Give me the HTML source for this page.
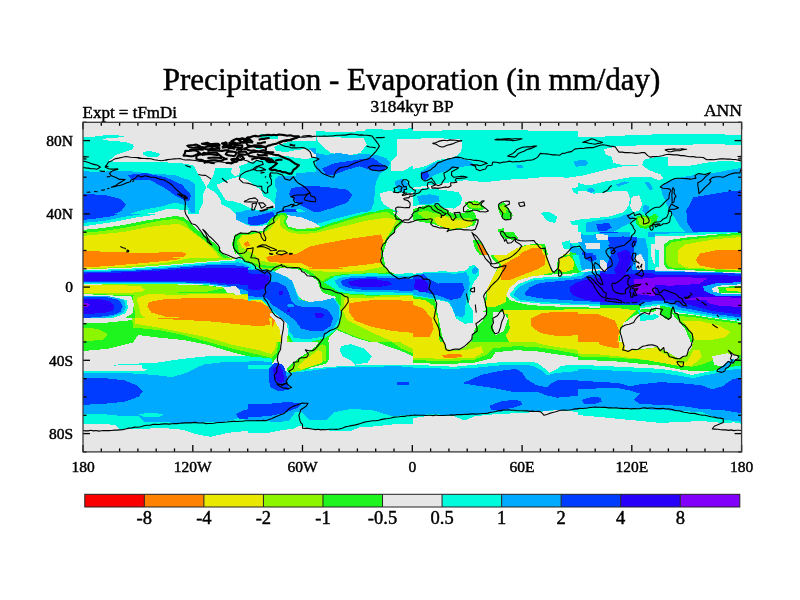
<!DOCTYPE html>
<html><head><meta charset="utf-8"><style>
html,body{margin:0;padding:0;background:#fff;}
svg{display:block;will-change:transform;}
text{font-family:"Liberation Serif",serif;fill:#000;stroke:#000;stroke-width:0.45px;}
</style></head><body>
<svg width="800" height="600" viewBox="0 0 800 600">
<rect x="0" y="0" width="800" height="600" fill="#fff"/>
<text x="411.6" y="90" font-size="31" text-anchor="middle" style="stroke-width:0.5px">Precipitation - Evaporation (in mm/day)</text>
<text x="82.5" y="118" font-size="17">Expt = tFmDi</text>
<text x="412.1" y="112" font-size="17.3" text-anchor="middle">3184kyr BP</text>
<text x="742" y="115.5" font-size="17.6" text-anchor="end">ANN</text>
<defs><clipPath id="mc"><rect x="83.0" y="122.3" width="658.6" height="329.59999999999997"/></clipPath></defs>
<rect x="83.0" y="122.3" width="658.6" height="329.59999999999997" fill="#e6e6e6"/>
<g clip-path="url(#mc)" shape-rendering="crispEdges">
<defs><clipPath id="c0"><rect x="83" y="122" width="165" height="110"/></clipPath><clipPath id="c1"><rect x="248" y="122" width="165" height="110"/></clipPath><clipPath id="c2"><rect x="195" y="155" width="80" height="77"/></clipPath><clipPath id="c3"><rect x="248" y="130" width="68" height="46"/></clipPath><clipPath id="c4"><rect x="413" y="122" width="165" height="110"/></clipPath><clipPath id="c5"><rect x="578" y="122" width="165" height="110"/></clipPath><clipPath id="c6"><rect x="578" y="140" width="90" height="92"/></clipPath><clipPath id="c7"><rect x="83" y="232" width="165" height="110"/></clipPath><clipPath id="c8"><rect x="248" y="232" width="165" height="110"/></clipPath><clipPath id="c9"><rect x="248" y="262" width="100" height="80"/></clipPath><clipPath id="c10"><rect x="413" y="232" width="165" height="110"/></clipPath><clipPath id="c11"><rect x="578" y="232" width="165" height="110"/></clipPath><clipPath id="c12"><rect x="570" y="232" width="120" height="73"/></clipPath><clipPath id="c13"><rect x="655" y="232" width="87" height="68"/></clipPath><clipPath id="c14"><rect x="640" y="300" width="102" height="50"/></clipPath><clipPath id="c15"><rect x="480" y="255" width="120" height="57"/></clipPath><clipPath id="c16"><rect x="83" y="214" width="160" height="44"/></clipPath><clipPath id="c17"><rect x="236" y="212" width="174" height="56"/></clipPath><clipPath id="c18"><rect x="83" y="342" width="165" height="110"/></clipPath><clipPath id="c19"><rect x="248" y="342" width="165" height="110"/></clipPath><clipPath id="c20"><rect x="413" y="342" width="165" height="110"/></clipPath><clipPath id="c21"><rect x="578" y="342" width="165" height="110"/></clipPath><clipPath id="c22"><rect x="83" y="318" width="189" height="47"/></clipPath></defs>
<polygon points="82.0,137.5 98.8,136.2 105.0,135.2 123.8,135.6 124.4,136.9 117.5,137.5 102.5,138.8 103.8,140.2 117.5,141.2 127.5,142.5 132.5,144.4 133.8,146.9 131.9,149.4 127.5,151.2 118.8,153.8 115.0,155.6 111.2,158.8 108.8,161.2 117.5,161.9 130.0,161.9 142.5,162.2 155.0,162.0 167.5,162.5 180.0,163.1 192.0,165.0 195.0,168.0 199.0,175.0 206.3,187.0 203.0,193.7 203.0,203.0 199.0,211.0 197.7,224.3 195.0,229.7 192.0,228.0 189.0,222.0 188.0,214.0 187.5,210.0 167.5,208.8 155.0,212.5 130.0,216.2 105.0,223.8 82.0,228.0" fill="#00fadc" clip-path="url(#c0)"/>
<polygon points="142.5,151.9 150.0,151.0 158.8,153.1 160.0,155.0 156.2,157.5 147.5,156.9 142.5,154.4" fill="#00fadc" clip-path="url(#c0)"/>
<polygon points="80.0,170.0 95.0,172.5 110.0,171.2 130.0,171.2 152.5,173.8 175.0,175.0 187.5,180.0 195.0,187.5 197.5,197.5 195.0,205.0 185.0,205.0 175.0,202.5 162.5,206.2 142.5,210.0 117.5,217.5 102.5,222.5 80.0,226.2" fill="#00aaff" clip-path="url(#c0)"/>
<polygon points="80.0,193.8 105.0,195.0 120.0,198.8 126.2,204.5 121.2,211.2 107.5,216.2 90.0,220.0 80.0,221.2" fill="#003cff" clip-path="url(#c0)"/>
<polygon points="173.0,178.0 188.0,179.5 197.0,185.5 198.5,197.5 197.0,212.5 191.0,212.5 186.5,205.0 180.5,194.5" fill="#00aaff" clip-path="url(#c0)"/>
<polygon points="128.0,175.0 137.0,173.8 146.0,173.2 165.5,177.2 182.0,184.7 191.0,195.2 189.5,200.5 185.0,200.5 176.0,196.0 164.0,187.7 150.5,180.2 132.5,179.8" fill="#003cff" clip-path="url(#c0)"/>
<polygon points="82.0,230.5 105.0,230.0 130.0,227.5 155.0,220.0 175.0,216.2 185.0,213.5 188.0,218.0 190.0,226.0 195.0,232.0 82.0,232.0" fill="#1ef51e" clip-path="url(#c0)"/>
<polygon points="82.0,233.0 130.0,230.0 155.0,225.0 180.0,219.0 186.0,218.0 189.0,226.0 193.0,232.0" fill="#8cf500" clip-path="url(#c0)"/>
<polygon points="82.0,235.0 130.0,233.0 160.0,229.0 185.0,224.0 190.0,228.0 192.0,232.0" fill="#e8e800" clip-path="url(#c0)"/>
<polygon points="237.7,111.7 423.3,111.7 423.3,245.8 237.7,245.8" fill="#00fadc" clip-path="url(#c1)"/>
<polygon points="245.9,119.9 415.1,119.9 413.0,128.2 388.2,129.8 367.6,128.6 363.5,131.3 340.8,131.9 316.1,131.3 309.9,134.4 299.6,134.8 289.2,136.4 285.1,144.7 278.9,150.9 272.8,155.0 264.5,157.1 256.2,158.1 245.9,158.1" fill="#e6e6e6" clip-path="url(#c1)"/>
<polygon points="316.1,136.4 340.8,137.5 363.5,138.5 366.6,144.7 360.4,152.9 347.0,156.0 330.5,152.9 323.3,146.8 318.1,141.6" fill="#e6e6e6" clip-path="url(#c1)"/>
<polygon points="276.3,151.9 289.2,149.8 299.6,150.9 309.9,152.9 318.1,157.1 320.2,162.2 311.9,164.3 302.7,159.1 291.3,157.5 283.1,155.0" fill="#e6e6e6" clip-path="url(#c1)"/>
<polygon points="245.9,180.4 258.3,181.8 262.4,188.0 264.5,196.2 260.4,201.4 245.9,202.4" fill="#e6e6e6" clip-path="url(#c1)"/>
<polygon points="397.0,139.0 414.0,139.0 414.0,165.0 403.0,171.0 391.0,171.0 391.0,162.0 397.0,155.0" fill="#e6e6e6" clip-path="url(#c1)"/>
<polygon points="380.0,193.2 388.2,191.1 396.5,192.1 404.8,193.2 415.1,192.1 415.1,233.4 401.7,233.4 404.8,214.8 396.5,210.7 390.3,208.6 384.1,204.5 381.0,200.4" fill="#e6e6e6" clip-path="url(#c1)"/>
<polygon points="309.9,146.8 316.1,152.9 326.4,155.0 338.8,152.9 351.1,155.0 363.5,154.0 375.9,155.0 386.2,158.1 390.3,163.2 386.2,169.4 380.0,173.6 375.9,181.8 374.8,190.1 374.2,202.4 370.9,210.1 360.0,216.1 344.9,220.6 338.8,218.9 326.4,214.8 309.9,213.8 299.6,208.6 289.2,212.8 278.9,215.8 268.6,218.9 256.2,218.9 245.9,216.9 245.9,208.6 260.4,206.6 274.8,201.4 276.9,190.1 272.8,181.8 278.9,175.6 291.3,173.6 299.6,167.4 309.9,163.2 316.1,159.1" fill="#00aaff" clip-path="url(#c1)"/>
<polygon points="395.0,181.0 402.0,179.0 408.0,183.0 407.0,190.0 400.0,192.0 396.0,188.0" fill="#00aaff" clip-path="url(#c1)"/>
<polygon points="322.2,168.4 334.6,163.2 351.1,160.8 363.5,158.7 373.8,158.1 380.0,163.2 386.2,166.3 384.1,170.5 371.8,170.5 359.4,166.3 347.0,169.8 334.6,174.6 326.4,175.2" fill="#003cff" clip-path="url(#c1)"/>
<polygon points="291.3,188.0 309.9,185.5 330.5,187.6 347.0,189.6 352.2,195.2 347.0,202.8 330.5,208.6 316.1,212.8 302.7,206.6 294.4,200.4 289.2,194.2" fill="#003cff" clip-path="url(#c1)"/>
<polygon points="245.9,217.9 260.4,215.8 274.8,212.8 287.2,208.6 295.4,208.6 297.5,212.8 289.2,216.9 274.8,223.1 260.4,227.2 245.9,228.2" fill="#003cff" clip-path="url(#c1)"/>
<polygon points="264.5,233.4 270.7,218.9 278.9,213.8 286.2,212.8 288.2,218.9 295.4,223.1 309.9,223.1 330.5,220.6 351.1,217.3 371.8,212.8 382.1,209.7 390.3,208.6 396.5,212.8 400.6,221.0 400.6,233.4" fill="#1ef51e" clip-path="url(#c1)"/>
<polygon points="267.6,233.4 272.8,222.0 281.0,216.5 284.7,218.9 286.8,225.1 299.6,226.8 330.5,225.1 361.4,221.0 380.0,215.2 392.4,213.2 397.5,218.9 399.6,225.1 396.5,233.4" fill="#8cf500" clip-path="url(#c1)"/>
<polygon points="269.7,233.4 274.8,224.1 282.0,219.3 284.7,225.1 286.2,233.4" fill="#e8e800" clip-path="url(#c1)"/>
<polygon points="334.6,233.4 361.4,226.2 382.1,220.0 392.4,218.5 395.5,225.1 392.4,233.4" fill="#e8e800" clip-path="url(#c1)"/>
<polygon points="195.0,155.0 275.0,155.0 275.0,235.0 195.0,235.0" fill="#00fadc" clip-path="url(#c2)"/>
<polygon points="216.3,185.0 224.3,181.7 232.3,178.3 237.7,177.0 245.7,179.0 255.0,185.7 261.7,191.0 263.0,196.3 269.7,199.0 275.0,204.3 275.0,207.7 261.7,211.0 251.0,208.3 243.0,204.3 235.0,201.7 225.7,200.3 221.7,193.7" fill="#e6e6e6" clip-path="url(#c2)"/>
<polygon points="195.0,155.0 275.0,155.0 275.0,157.7 256.3,160.3 248.3,163.0 239.0,166.3 240.3,171.0 239.0,175.0 235.0,176.3 231.0,172.3 232.3,167.7 215.0,168.3 213.7,175.0 209.7,181.7 206.3,187.0 199.0,175.0 195.0,168.3" fill="#e6e6e6" clip-path="url(#c2)"/>
<polygon points="206.3,187.0 215.0,192.3 220.3,199.0 221.7,204.3 229.7,208.3 235.0,213.7 235.0,224.3 237.7,232.3 239.0,235.0 195.0,235.0 195.0,229.7 197.7,224.3 199.0,211.0 203.0,203.0 203.0,193.7" fill="#e6e6e6" clip-path="url(#c2)"/>
<polygon points="239.0,212.3 248.3,209.7 259.0,211.0 269.7,211.0 275.0,209.7 275.0,229.7 259.0,231.0 243.0,224.3 239.0,219.0" fill="#00aaff" clip-path="url(#c2)"/>
<polygon points="248.3,220.3 259.0,217.7 269.7,217.7 275.0,216.3 275.0,224.3 264.3,225.7 251.0,225.0" fill="#003cff" clip-path="url(#c2)"/>
<polygon points="182.0,232.0 185.0,213.5 188.0,218.0 190.0,226.0 195.0,232.0" fill="#1ef51e" clip-path="url(#c2)"/>
<polygon points="235.5,125.5 316.5,125.5 316.5,176.5 235.5,176.5" fill="#e6e6e6" clip-path="url(#c3)"/>
<polygon points="260.0,134.0 269.0,133.5 278.0,134.5 278.0,139.0 269.0,138.5 260.0,138.0" fill="#00fadc" clip-path="url(#c3)"/>
<polygon points="274.0,147.0 281.0,144.0 291.0,141.5 306.0,140.5 316.5,141.0 316.5,152.0 306.0,149.0 296.0,150.0 286.0,152.0 276.0,151.0" fill="#00fadc" clip-path="url(#c3)"/>
<polygon points="235.5,164.0 246.0,163.0 261.0,160.0 271.0,157.0 286.0,156.0 296.0,158.0 306.0,159.0 316.5,157.0 316.5,176.5 235.5,176.5" fill="#00fadc" clip-path="url(#c3)"/>
<polygon points="244.0,139.0 251.0,140.0 252.0,143.0 246.0,143.0" fill="#00fadc" clip-path="url(#c3)"/>
<polygon points="254.0,146.0 261.0,145.0 262.0,149.0 256.0,149.0" fill="#00fadc" clip-path="url(#c3)"/>
<polygon points="308.0,148.0 316.5,147.5 316.5,155.0 312.0,152.0" fill="#00aaff" clip-path="url(#c3)"/>
<polygon points="296.0,173.0 316.5,172.0 316.5,176.5 296.0,176.5" fill="#00aaff" clip-path="url(#c3)"/>
<polygon points="410.9,131.3 454.2,130.2 495.5,129.8 536.8,130.7 580.1,131.3 580.1,176.0 567.7,177.7 547.1,176.7 526.4,178.7 505.8,179.8 485.2,182.2 464.6,180.2 454.2,181.8 437.8,183.9 425.4,185.9 410.9,188.0" fill="#00fadc" clip-path="url(#c4)"/>
<polygon points="410.9,139.5 425.4,138.1 443.9,138.5 460.4,139.5 462.5,144.7 460.4,152.9 454.2,157.1 437.8,160.2 425.4,166.3 410.9,169.4" fill="#e6e6e6" clip-path="url(#c4)"/>
<polygon points="410.9,190.1 425.4,188.0 443.9,190.1 458.4,192.1 462.5,198.3 460.4,204.5 454.2,208.6 443.9,207.6 433.6,206.6 423.3,204.5 410.9,206.6" fill="#00fadc" clip-path="url(#c4)"/>
<polygon points="540.9,212.8 549.1,211.7 557.4,216.9 555.3,223.1 547.1,221.0" fill="#00fadc" clip-path="url(#c4)"/>
<polygon points="571.8,188.0 580.1,187.0 580.1,194.2 573.9,193.2" fill="#00fadc" clip-path="url(#c4)"/>
<polygon points="569.8,221.0 580.1,220.0 580.1,225.1 571.8,224.7" fill="#00fadc" clip-path="url(#c4)"/>
<polygon points="417.1,196.2 429.5,194.2 438.8,196.2 439.8,201.4 431.6,203.5 419.2,203.5" fill="#00aaff" clip-path="url(#c4)"/>
<polygon points="421.2,171.5 433.6,163.2 446.0,159.1 458.4,158.1 470.8,161.2 474.9,165.3 464.6,166.3 454.2,168.4 443.9,171.5 433.6,175.6 427.4,179.8 421.2,178.7" fill="#00aaff" clip-path="url(#c4)"/>
<polygon points="421.2,172.5 427.4,171.5 429.5,176.7 425.4,179.8 421.7,178.7" fill="#003cff" clip-path="url(#c4)"/>
<polygon points="516.1,165.3 522.3,164.9 523.3,168.4 517.2,168.4" fill="#00aaff" clip-path="url(#c4)"/>
<polygon points="573.9,161.2 580.1,160.2 580.1,167.4 574.9,166.3" fill="#00aaff" clip-path="url(#c4)"/>
<polygon points="410.9,209.7 425.4,205.5 435.7,204.5 443.9,208.6 454.2,214.4 464.6,212.8 467.7,208.6 474.9,212.8 476.9,218.9 474.9,225.1 464.6,228.2 450.1,230.3 433.6,224.1 410.9,220.0" fill="#1ef51e" clip-path="url(#c4)"/>
<polygon points="417.1,212.8 425.4,210.7 433.6,212.8 443.9,214.8 454.2,217.9 470.8,217.9 473.8,223.1 464.6,227.2 450.1,228.2 437.8,224.1 425.4,218.9" fill="#8cf500" clip-path="url(#c4)"/>
<polygon points="433.6,217.9 443.9,215.8 454.2,220.0 468.7,220.0 472.8,224.1 464.6,228.2 448.1,228.8 437.8,225.1" fill="#e8e800" clip-path="url(#c4)"/>
<polygon points="464.6,202.4 474.9,200.4 481.1,202.4 485.2,208.6 479.0,211.1 468.7,208.6" fill="#1ef51e" clip-path="url(#c4)"/>
<polygon points="467.7,203.5 474.9,202.0 479.0,203.5 481.1,207.6 474.9,208.6 469.7,207.0" fill="#8cf500" clip-path="url(#c4)"/>
<polygon points="497.6,204.5 503.8,202.4 508.9,208.6 513.0,215.8 507.9,220.0 501.7,217.3 498.6,210.7" fill="#1ef51e" clip-path="url(#c4)"/>
<polygon points="499.6,206.6 503.8,204.5 506.8,208.6 505.8,212.8 501.7,212.8" fill="#8cf500" clip-path="url(#c4)"/>
<polygon points="497.6,229.2 503.8,228.2 504.8,233.4 497.6,233.4" fill="#1ef51e" clip-path="url(#c4)"/>
<polygon points="567.7,111.7 753.3,111.7 753.3,245.8 567.7,245.8" fill="#00fadc" clip-path="url(#c5)"/>
<polygon points="575.9,119.9 745.1,119.9 745.1,135.4 722.4,134.4 681.1,133.8 639.9,134.8 598.6,136.8 575.9,137.5" fill="#e6e6e6" clip-path="url(#c5)"/>
<polygon points="667.9,145.1 701.8,144.3 745.1,144.7 745.1,162.2 722.4,160.8 705.9,162.8 693.5,165.3 681.1,166.3 667.9,165.7" fill="#e6e6e6" clip-path="url(#c5)"/>
<polygon points="664.6,183.9 670.8,179.8 685.2,176.7 697.6,174.6 710.0,173.6 722.4,171.5 734.8,169.0 745.1,167.4 745.1,233.4 687.3,233.4 679.1,225.1 672.9,214.8 666.7,204.5 663.6,192.1" fill="#00aaff" clip-path="url(#c5)"/>
<polygon points="693.5,197.3 705.9,195.2 718.2,193.2 730.6,191.1 745.1,190.1 745.1,233.4 694.5,233.4 687.3,223.1 686.3,210.7" fill="#003cff" clip-path="url(#c5)"/>
<polygon points="604.1,149.2 617.9,146.1 639.3,145.4 670.0,144.6 670.0,156.9 651.6,157.6 644.0,159.9 642.4,164.5 624.0,165.3 613.3,163.0 611.7,156.9 605.6,154.6" fill="#e6e6e6" clip-path="url(#c6)"/>
<polygon points="596.4,172.2 608.7,169.1 624.0,166.1 642.4,165.3 648.6,169.9 660.8,174.5 663.9,179.1 657.8,179.9 650.1,176.8 639.3,176.8 627.1,177.6 616.3,179.9 605.6,181.4 593.3,184.5 584.1,184.5 577.2,182.9 577.2,176.8 587.2,174.5" fill="#e6e6e6" clip-path="url(#c6)"/>
<polygon points="577.2,190.6 584.1,190.6 593.3,193.7 608.7,192.1 616.3,190.6 627.1,190.6 630.1,198.3 628.6,206.0 624.0,212.1 608.7,216.7 593.3,218.2 577.2,219.8" fill="#e6e6e6" clip-path="url(#c6)"/>
<polygon points="631.7,196.7 639.3,195.2 642.4,204.4 639.3,210.6 633.2,212.1 630.1,206.0" fill="#e6e6e6" clip-path="url(#c6)"/>
<polygon points="577.2,159.9 585.7,159.9 588.7,163.0 585.7,166.1 577.2,166.1" fill="#00aaff" clip-path="url(#c6)"/>
<polygon points="587.2,189.1 591.8,187.5 594.9,190.6 591.8,192.9 588.0,192.1" fill="#00aaff" clip-path="url(#c6)"/>
<polygon points="616.3,184.5 624.0,181.4 630.1,182.2 624.0,184.5 617.9,186.8" fill="#00aaff" clip-path="url(#c6)"/>
<polygon points="644.0,181.4 650.1,182.9 653.2,189.1 650.1,190.6 647.0,186.0" fill="#00aaff" clip-path="url(#c6)"/>
<polygon points="644.0,204.4 648.6,206.0 649.3,212.1 645.5,213.6 642.4,210.6" fill="#00aaff" clip-path="url(#c6)"/>
<polygon points="660.8,186.0 670.0,181.4 670.0,201.3 663.9,198.3 661.6,192.1" fill="#00aaff" clip-path="url(#c6)"/>
<polygon points="585.7,222.8 601.0,219.8 616.3,218.2 628.6,213.6 633.2,216.7 630.1,222.8 624.0,225.9 616.3,230.5 608.7,233.6 585.7,233.6" fill="#00aaff" clip-path="url(#c6)"/>
<polygon points="596.4,224.4 608.7,222.8 611.7,227.4 605.6,231.3 597.9,230.5" fill="#003cff" clip-path="url(#c6)"/>
<polygon points="636.3,216.7 642.4,215.2 650.1,216.7 654.7,213.6 657.8,216.7 656.2,222.8 651.6,227.4 645.5,229.0 639.3,227.4 635.5,222.8" fill="#1ef51e" clip-path="url(#c6)"/>
<polygon points="637.8,218.2 642.4,216.7 648.6,218.2 651.6,219.8 650.1,224.4 644.0,226.7 639.3,224.4" fill="#8cf500" clip-path="url(#c6)"/>
<polygon points="72.7,221.7 258.3,221.7 258.3,355.8 72.7,355.8" fill="#1ef51e" clip-path="url(#c7)"/>
<polygon points="80.9,229.9 204.7,229.9 215.0,240.2 225.3,250.6 237.7,256.8 250.1,258.8 250.1,260.9 206.8,262.9 165.5,266.0 124.2,268.7 80.9,271.2" fill="#8cf500" clip-path="url(#c7)"/>
<polygon points="80.9,229.9 200.6,229.9 208.8,240.2 217.1,248.5 206.8,254.7 186.1,258.8 165.5,262.9 124.2,266.6 80.9,269.1" fill="#e8e800" clip-path="url(#c7)"/>
<polygon points="80.9,250.6 124.2,251.6 165.5,251.0 186.1,252.6 186.1,256.8 175.8,259.8 144.9,262.9 113.9,265.6 80.9,267.7" fill="#ff8200" clip-path="url(#c7)"/>
<polygon points="208.8,229.9 234.6,229.9 235.6,244.4 239.8,252.6 250.1,255.7 250.1,257.8 239.8,255.1 227.4,249.5 217.1,240.2" fill="#e6e6e6" clip-path="url(#c7)"/>
<polygon points="80.9,283.6 144.9,283.6 186.1,284.6 206.8,286.0 227.4,287.7 206.8,291.8 165.5,292.8 144.9,294.9 124.2,294.9 80.9,293.9" fill="#8cf500" clip-path="url(#c7)"/>
<polygon points="80.9,285.0 113.9,285.0 140.8,286.0 144.9,289.8 140.8,292.4 113.9,292.8 80.9,292.8" fill="#e8e800" clip-path="url(#c7)"/>
<polygon points="132.5,295.9 144.9,292.8 186.1,292.8 250.1,292.8 250.1,333.1 206.8,331.0 165.5,328.9 144.9,326.9 134.6,320.7 134.6,310.4" fill="#8cf500" clip-path="url(#c7)"/>
<polygon points="136.6,298.0 149.0,293.9 175.8,294.9 206.8,293.9 250.1,294.9 250.1,328.9 227.4,327.9 196.4,324.8 165.5,322.8 149.0,320.7 140.8,314.5 138.7,306.2" fill="#e8e800" clip-path="url(#c7)"/>
<polygon points="149.0,302.1 165.5,299.0 196.4,298.0 227.4,298.0 250.1,300.1 250.1,322.8 227.4,322.8 196.4,318.6 165.5,316.6 151.1,312.4 147.3,306.2" fill="#ff8200" clip-path="url(#c7)"/>
<polygon points="136.6,343.4 140.8,334.1 155.2,332.6 175.8,333.1 182.0,337.2 184.1,343.4" fill="#e6e6e6" clip-path="url(#c7)"/>
<polygon points="80.9,328.9 103.6,331.0 105.7,337.2 95.4,343.4 80.9,343.4" fill="#8cf500" clip-path="url(#c7)"/>
<polygon points="80.9,269.1 124.2,268.1 165.5,265.0 206.8,261.5 227.4,259.8 250.1,258.4 250.1,293.9 235.6,294.9 227.4,288.1 206.8,285.2 165.5,284.2 124.2,284.2 80.9,284.8" fill="#e6e6e6" clip-path="url(#c7)"/>
<polygon points="80.9,270.2 124.2,269.1 165.5,266.0 206.8,262.5 227.4,260.9 250.1,259.8 250.1,293.9 239.8,293.9 231.5,287.7 206.8,284.6 165.5,283.6 124.2,283.6 80.9,284.0" fill="#00fadc" clip-path="url(#c7)"/>
<polygon points="80.9,271.2 124.2,270.2 165.5,267.5 206.8,264.0 250.1,262.5 250.1,293.9 241.8,293.9 235.6,288.1 206.8,284.0 165.5,282.5 124.2,282.5 80.9,282.9" fill="#00aaff" clip-path="url(#c7)"/>
<polygon points="80.9,272.2 124.2,271.2 165.5,268.7 206.8,265.4 250.1,264.6 250.1,291.8 243.9,289.8 227.4,285.6 206.8,283.1 165.5,281.9 124.2,281.5 80.9,281.9" fill="#003cff" clip-path="url(#c7)"/>
<polygon points="80.9,273.7 124.2,272.4 165.5,270.2 206.8,267.5 250.1,268.1 250.1,285.2 227.4,283.6 206.8,281.5 165.5,280.7 124.2,280.7 80.9,280.5" fill="#2800fa" clip-path="url(#c7)"/>
<polygon points="223.2,287.3 235.6,286.0 239.8,289.8 239.8,293.9 227.4,293.1" fill="#e6e6e6" clip-path="url(#c7)"/>
<polygon points="80.9,294.0 98.0,294.7 112.9,295.5 131.1,296.2 133.9,304.5 132.5,313.5 125.0,318.0 112.9,321.0 98.0,323.2 80.9,324.0" fill="#e6e6e6" clip-path="url(#c7)"/>
<polygon points="80.9,295.5 112.9,297.0 126.5,300.0 128.0,307.5 125.0,313.5 112.9,318.0 98.0,320.3 80.9,321.0" fill="#00fadc" clip-path="url(#c7)"/>
<polygon points="80.9,295.9 109.8,296.4 124.2,300.1 125.9,307.5 123.2,312.9 111.9,316.6 97.4,319.0 80.9,319.7" fill="#00aaff" clip-path="url(#c7)"/>
<polygon points="80.9,297.0 105.5,297.0 119.0,300.0 122.7,306.0 120.5,312.0 112.9,314.9 98.0,317.2 80.9,318.0" fill="#003cff" clip-path="url(#c7)"/>
<polygon points="80.9,298.5 98.0,298.5 110.0,301.5 114.5,306.0 112.9,310.5 105.5,312.7 95.0,313.5 80.9,314.3" fill="#2800fa" clip-path="url(#c7)"/>
<polygon points="80.9,302.2 87.5,302.9 90.5,304.8 87.5,306.7 80.9,306.7" fill="#8200fa" clip-path="url(#c7)"/>
<polygon points="237.7,221.7 423.3,221.7 423.3,355.8 237.7,355.8" fill="#1ef51e" clip-path="url(#c8)"/>
<polygon points="245.9,229.9 388.2,229.9 382.1,252.6 384.1,267.1 392.4,272.2 371.8,273.2 340.8,274.3 330.5,276.3 322.2,281.5 309.9,271.2 299.6,267.1 278.9,269.1 245.9,271.2" fill="#8cf500" clip-path="url(#c8)"/>
<polygon points="245.9,238.2 268.6,240.2 289.2,241.3 330.5,240.2 361.4,236.1 384.1,229.9 380.0,244.4 380.0,260.9 375.9,268.1 361.4,271.2 330.5,272.2 309.9,270.2 299.6,267.1 278.9,268.1 264.5,265.0 245.9,267.1" fill="#e8e800" clip-path="url(#c8)"/>
<polygon points="266.6,255.7 278.9,253.7 297.5,253.7 309.9,248.5 330.5,243.3 351.1,239.2 371.8,236.1 381.0,235.1 382.1,244.4 380.0,258.8 371.8,265.0 351.1,268.1 330.5,269.1 309.9,268.7 299.6,265.0 289.2,262.9 268.6,261.9" fill="#ff8200" clip-path="url(#c8)"/>
<polygon points="388.2,229.9 415.1,229.9 415.1,272.2 400.6,275.3 392.4,273.2 385.2,267.1 382.1,258.8 383.1,244.4" fill="#e6e6e6" clip-path="url(#c8)"/>
<polygon points="340.8,293.9 371.8,295.9 415.1,293.9 415.1,344.4 382.5,344.8 355.0,336.6 335.7,328.1 338.8,318.6 340.8,304.2" fill="#8cf500" clip-path="url(#c8)"/>
<polygon points="344.9,298.0 371.8,297.6 415.1,295.9 415.1,344.4 396.3,343.4 368.7,331.0 346.8,320.1 342.9,310.4" fill="#e8e800" clip-path="url(#c8)"/>
<polygon points="349.1,303.2 371.8,300.1 392.4,300.1 415.1,301.1 415.1,333.1 392.4,331.0 371.8,326.9 355.2,320.7 349.1,312.4" fill="#ff8200" clip-path="url(#c8)"/>
<polygon points="336.7,330.0 355.0,337.6 382.5,345.9 326.4,345.9 329.5,337.2" fill="#e6e6e6" clip-path="url(#c8)"/>
<polygon points="245.9,291.8 268.6,293.9 276.9,302.1 285.1,318.6 289.2,343.4 245.9,343.4" fill="#8cf500" clip-path="url(#c8)"/>
<polygon points="245.9,293.9 260.4,295.9 272.8,304.2 281.0,318.6 283.1,343.4 245.9,343.4" fill="#e8e800" clip-path="url(#c8)"/>
<polygon points="245.9,300.1 260.4,302.1 270.7,308.3 274.8,320.7 272.8,326.9 260.4,328.9 245.9,328.9" fill="#ff8200" clip-path="url(#c8)"/>
<polygon points="247.3,267.3 261.3,268.7 270.7,270.0 278.7,271.3 288.0,276.7 294.7,282.0 297.3,292.7 301.3,300.7 308.0,303.3 322.7,302.0 334.7,298.0 340.0,306.0 341.3,319.3 336.0,330.0 325.3,338.0 308.0,342.7 293.3,342.7 288.0,334.0 286.7,326.0 280.0,319.3 272.0,312.7 266.7,304.7 261.3,300.0 247.3,300.7" fill="#00fadc" clip-path="url(#c9)"/>
<polygon points="274.7,271.3 281.3,268.0 294.7,268.7 304.0,271.3 312.0,276.7 317.3,280.7 320.0,288.7 322.7,292.7 330.7,295.3 336.0,296.9 333.3,300.7 322.7,300.7 309.3,302.0 301.3,299.3 297.3,294.0 293.3,283.3 286.7,276.7 278.7,274.0" fill="#e6e6e6" clip-path="url(#c9)"/>
<polygon points="270.7,312.7 278.7,315.3 286.7,322.0 288.0,331.3 286.7,342.7 281.3,342.7 280.0,330.0 274.7,320.7 269.3,315.3" fill="#e6e6e6" clip-path="url(#c9)"/>
<polygon points="247.3,268.7 270.7,271.3 277.3,272.7 285.3,276.7 292.0,280.7 294.7,288.7 298.7,299.3 309.3,302.0 322.7,300.7 333.3,298.0 338.7,306.0 338.7,319.3 333.3,328.7 322.7,336.7 308.0,339.3 294.7,338.0 289.3,331.3 289.3,326.0 282.7,319.3 274.7,312.7 268.0,304.7 261.3,298.7 247.3,298.7" fill="#00aaff" clip-path="url(#c9)"/>
<polygon points="247.3,270.0 261.3,270.0 270.7,272.7 270.7,282.0 277.3,282.0 285.3,286.0 289.3,294.0 292.0,302.0 297.3,306.0 308.0,307.3 318.7,306.7 328.0,310.0 333.3,318.0 330.7,326.0 322.7,331.3 312.0,331.3 301.3,328.7 297.3,323.3 292.0,318.0 286.7,314.0 278.7,308.7 272.0,304.7 268.0,299.3 264.0,296.7 256.0,296.9 247.3,295.3" fill="#003cff" clip-path="url(#c9)"/>
<polygon points="247.3,273.3 256.0,274.0 268.0,274.7 269.3,279.3 265.3,288.7 258.7,290.0 247.3,289.3" fill="#2800fa" clip-path="url(#c9)"/>
<polygon points="278.7,291.3 282.7,291.3 283.3,294.0 280.7,295.3 278.7,294.0" fill="#2800fa" clip-path="url(#c9)"/>
<polygon points="314.7,313.3 320.0,312.7 324.0,314.7 322.0,318.0 316.0,318.0" fill="#2800fa" clip-path="url(#c9)"/>
<polygon points="286.7,310.0 289.3,308.7 290.7,311.3 288.0,312.7" fill="#2800fa" clip-path="url(#c9)"/>
<polygon points="286.7,304.7 293.3,304.0 294.0,306.7 288.0,307.3" fill="#00aaff" clip-path="url(#c9)"/>
<polygon points="324.3,282.5 334.6,276.3 351.1,274.3 371.8,273.2 392.4,274.3 415.1,272.8 415.1,294.9 392.4,295.5 371.8,294.9 351.1,293.9 338.8,291.8" fill="#00fadc" clip-path="url(#c8)"/>
<polygon points="334.6,280.5 342.9,277.0 361.4,275.7 382.1,275.7 402.7,276.3 415.1,276.3 415.1,292.8 371.8,292.2 347.0,291.2 338.8,287.7" fill="#00aaff" clip-path="url(#c8)"/>
<polygon points="340.8,280.9 351.1,277.8 371.8,277.4 392.4,277.8 415.1,279.0 415.1,290.8 382.1,290.2 355.2,289.3 342.9,286.0" fill="#003cff" clip-path="url(#c8)"/>
<polygon points="347.0,281.9 359.4,279.4 375.9,279.4 388.2,281.5 392.4,284.6 380.0,286.9 363.5,287.3 351.1,285.6" fill="#2800fa" clip-path="url(#c8)"/>
<polygon points="402.7,221.7 588.3,221.7 588.3,355.8 402.7,355.8" fill="#1ef51e" clip-path="url(#c10)"/>
<polygon points="410.9,229.9 545.0,229.9 545.0,244.4 536.8,243.3 524.4,245.4 516.1,248.5 505.8,256.8 499.6,262.9 493.4,266.0 495.5,273.2 489.3,285.6 485.2,295.9 483.1,306.2 487.2,314.5 481.1,322.8 474.9,328.9 470.8,343.4 443.9,343.4 439.8,324.8 435.7,304.2 431.6,283.6 425.4,275.3 410.9,274.3" fill="#e6e6e6" clip-path="url(#c10)"/>
<polygon points="540.9,229.9 580.1,229.9 580.1,249.5 578.0,250.6 565.6,254.7 561.5,260.9 559.4,273.2 555.3,271.2 549.1,258.8 545.0,244.4" fill="#e6e6e6" clip-path="url(#c10)"/>
<polygon points="472.8,240.2 479.0,240.2 485.2,248.5 493.4,262.9 489.3,265.0 481.1,256.8 474.9,248.5" fill="#1ef51e" clip-path="url(#c10)"/>
<polygon points="476.9,244.4 481.1,244.4 487.2,252.6 489.3,260.9 484.2,256.8 479.0,250.6" fill="#ff8200" clip-path="url(#c10)"/>
<polygon points="499.6,229.9 512.0,229.9 518.2,238.2 514.1,240.2 503.8,238.2" fill="#1ef51e" clip-path="url(#c10)"/>
<polygon points="491.4,266.0 501.7,257.8 516.1,248.5 526.4,245.4 540.9,244.8 546.0,256.8 551.2,269.1 557.4,273.2 580.1,271.2 580.1,343.4 509.9,343.4 505.8,335.1 509.9,328.9 507.9,314.5 495.5,313.5 487.2,310.4 485.2,300.1 489.3,287.7 494.5,273.2" fill="#e8e800" clip-path="url(#c10)"/>
<polygon points="557.4,256.8 565.6,253.7 573.9,254.7 578.0,260.9 575.9,271.2 561.5,273.2 559.4,265.0" fill="#e8e800" clip-path="url(#c10)"/>
<polygon points="501.7,267.1 509.9,260.9 522.3,252.6 532.6,247.5 540.9,248.5 545.0,258.8 542.9,269.1 532.6,272.2 516.1,277.4 503.8,281.5 499.6,275.3" fill="#ff8200" clip-path="url(#c10)"/>
<polygon points="530.6,318.6 540.9,313.5 557.4,311.4 580.1,311.4 580.1,335.1 557.4,336.2 540.9,333.1 531.6,326.9" fill="#ff8200" clip-path="url(#c10)"/>
<polygon points="410.9,298.0 425.4,300.1 433.6,306.2 437.8,318.6 439.8,343.4 410.9,343.4" fill="#e8e800" clip-path="url(#c10)"/>
<polygon points="410.9,304.2 423.3,308.3 431.6,318.6 433.6,328.9 429.5,337.2 410.9,337.2" fill="#ff8200" clip-path="url(#c10)"/>
<polygon points="503.8,293.9 509.9,284.6 520.2,278.4 536.8,274.3 557.4,272.8 580.1,271.2 580.1,312.4 557.4,309.3 536.8,307.3 520.2,305.2 507.9,302.1" fill="#e6e6e6" clip-path="url(#c10)"/>
<polygon points="506.8,293.9 512.0,286.7 521.3,281.1 536.8,277.0 557.4,275.3 580.1,273.9 580.1,309.3 557.4,306.7 536.8,304.6 520.2,302.5 509.9,300.1" fill="#00fadc" clip-path="url(#c10)"/>
<polygon points="514.1,293.9 520.2,286.0 536.8,280.5 557.4,278.4 580.1,277.0 580.1,306.7 557.4,303.6 536.8,301.5 520.2,299.0" fill="#00aaff" clip-path="url(#c10)"/>
<polygon points="522.3,292.2 530.6,286.0 545.0,282.9 561.5,281.5 580.1,280.5 580.1,302.5 557.4,300.1 536.8,298.0 524.4,295.9" fill="#003cff" clip-path="url(#c10)"/>
<polygon points="569.8,283.6 580.1,282.5 580.1,298.4 571.8,295.9 568.7,289.8" fill="#2800fa" clip-path="url(#c10)"/>
<polygon points="410.9,274.3 425.4,272.2 443.9,271.2 454.2,272.2 466.6,270.2 469.7,266.0 474.9,265.0 479.0,269.1 479.0,275.3 472.8,283.6 470.8,293.9 468.7,304.2 472.8,310.4 472.8,322.8 464.6,323.8 456.3,318.6 452.2,308.3 448.1,302.1 437.8,300.1 425.4,298.0 410.9,295.9" fill="#00fadc" clip-path="url(#c10)"/>
<polygon points="410.9,275.3 425.4,273.2 443.9,272.8 454.2,273.9 465.6,272.2 468.7,276.3 469.7,283.6 467.7,293.9 465.6,304.2 464.6,314.5 462.5,317.6 455.3,315.5 452.2,307.3 449.1,301.7 437.8,299.0 425.4,297.0 410.9,294.3" fill="#00aaff" clip-path="url(#c10)"/>
<polygon points="410.9,276.3 423.3,274.3 429.5,279.4 437.8,283.6 450.1,282.5 462.5,282.5 464.6,289.8 460.4,298.0 450.1,300.1 439.8,295.9 429.5,293.9 419.2,289.8 410.9,289.8" fill="#003cff" clip-path="url(#c10)"/>
<polygon points="415.1,279.0 423.3,278.4 428.5,283.6 427.4,291.8 419.2,291.8 414.0,287.7" fill="#2800fa" clip-path="url(#c10)"/>
<polygon points="561.5,242.3 569.8,240.2 580.1,239.2 580.1,250.6 571.8,249.5 563.6,248.5" fill="#00fadc" clip-path="url(#c10)"/>
<polygon points="471.8,269.1 474.9,266.6 478.0,268.7 477.4,273.2 473.8,274.3 471.8,272.2" fill="#00aaff" clip-path="url(#c10)"/>
<polygon points="493.4,312.4 501.7,310.4 507.9,318.6 503.8,331.0 495.5,335.1 492.4,324.8" fill="#e6e6e6" clip-path="url(#c10)"/>
<polygon points="664.6,238.2 701.8,236.1 745.1,234.1 745.1,273.2 701.8,272.2 670.8,271.2 664.6,262.9" fill="#1ef51e" clip-path="url(#c11)"/>
<polygon points="668.8,240.2 701.8,238.2 745.1,236.1 745.1,272.2 701.8,271.2 672.9,270.2 668.8,260.9" fill="#8cf500" clip-path="url(#c11)"/>
<polygon points="672.9,241.3 701.8,240.2 745.1,238.2 745.1,271.2 701.8,270.2 677.0,269.1 671.8,256.8" fill="#e8e800" clip-path="url(#c11)"/>
<polygon points="695.6,251.6 712.1,250.2 745.1,249.5 745.1,270.2 722.4,269.5 701.8,268.1 696.6,260.9" fill="#ff8200" clip-path="url(#c11)"/>
<polygon points="650.2,240.2 666.7,238.2 668.8,252.6 666.7,269.1 654.3,269.1 650.2,256.8" fill="#e6e6e6" clip-path="url(#c11)"/>
<polygon points="666.7,229.9 745.1,229.9 745.1,235.1 701.8,237.2 666.7,238.2" fill="#00aaff" clip-path="url(#c11)"/>
<polygon points="666.7,269.1 745.1,272.2 745.1,318.6 722.4,316.6 701.8,314.5 681.1,310.4 666.7,308.3" fill="#00fadc" clip-path="url(#c11)"/>
<polygon points="666.7,270.2 745.1,273.2 745.1,316.6 701.8,313.5 666.7,307.3" fill="#00aaff" clip-path="url(#c11)"/>
<polygon points="666.7,271.2 701.8,272.2 745.1,274.3 745.1,314.5 701.8,311.4 666.7,306.2" fill="#003cff" clip-path="url(#c11)"/>
<polygon points="666.7,273.2 701.8,274.3 745.1,276.3 745.1,312.4 722.4,310.4 701.8,308.3 666.7,305.2" fill="#2800fa" clip-path="url(#c11)"/>
<polygon points="666.7,278.4 681.1,279.4 701.8,281.5 705.9,285.6 693.5,288.7 677.0,289.8 666.7,289.8" fill="#8200fa" clip-path="url(#c11)"/>
<polygon points="701.8,293.9 722.4,295.9 745.1,293.9 745.1,304.2 722.4,303.2 705.9,300.1" fill="#8200fa" clip-path="url(#c11)"/>
<polygon points="710.0,285.6 722.4,283.6 745.1,282.5 745.1,293.9 722.4,293.9 712.1,291.8" fill="#e6e6e6" clip-path="url(#c11)"/>
<polygon points="714.1,286.0 745.1,284.6 745.1,292.8 716.2,291.8" fill="#1ef51e" clip-path="url(#c11)"/>
<polygon points="722.4,286.7 745.1,286.0 745.1,291.8 722.4,290.8" fill="#e8e800" clip-path="url(#c11)"/>
<polygon points="575.9,304.2 639.9,305.2 644.0,310.4 629.6,318.6 621.3,328.9 619.2,343.4 575.9,343.4" fill="#1ef51e" clip-path="url(#c11)"/>
<polygon points="575.9,307.3 619.2,308.3 635.8,310.4 627.5,318.6 621.3,326.9 618.2,343.4 575.9,343.4" fill="#e8e800" clip-path="url(#c11)"/>
<polygon points="575.9,313.5 598.6,314.5 615.1,320.7 619.2,331.0 617.2,343.4 575.9,343.4" fill="#ff8200" clip-path="url(#c11)"/>
<polygon points="619.2,343.4 623.4,322.8 639.9,314.5 652.2,310.4 664.6,308.3 672.9,306.2 681.1,314.5 689.4,326.9 693.5,343.4" fill="#e6e6e6" clip-path="url(#c11)"/>
<polygon points="685.2,310.4 745.1,314.5 745.1,343.4 693.5,343.4 689.4,326.9 681.1,314.5" fill="#1ef51e" clip-path="url(#c11)"/>
<polygon points="689.4,313.5 745.1,317.6 745.1,343.4 695.6,343.4 692.5,326.9" fill="#8cf500" clip-path="url(#c11)"/>
<polygon points="693.5,316.6 722.4,318.6 745.1,320.7 745.1,343.4 699.7,343.4 695.6,326.9" fill="#e8e800" clip-path="url(#c11)"/>
<polygon points="637.8,310.4 650.2,308.3 664.6,309.3 664.6,318.6 650.2,318.6 639.9,316.6" fill="#00fadc" clip-path="url(#c11)"/>
<polygon points="569.3,227.3 690.7,227.3 690.7,309.0 569.3,309.0" fill="#00aaff" clip-path="url(#c12)"/>
<polygon points="569.3,252.0 576.0,253.5 579.0,261.0 577.5,271.5 569.3,273.0" fill="#1ef51e" clip-path="url(#c12)"/>
<polygon points="569.3,255.0 574.5,256.5 576.0,262.5 574.5,270.0 569.3,270.7" fill="#e8e800" clip-path="url(#c12)"/>
<polygon points="579.0,227.3 600.0,227.3 598.5,234.0 585.0,235.5 579.0,232.5" fill="#00fadc" clip-path="url(#c12)"/>
<polygon points="630.0,227.3 648.0,227.3 648.0,237.0 637.5,238.5 630.0,235.5" fill="#00fadc" clip-path="url(#c12)"/>
<polygon points="645.0,237.0 666.0,237.0 667.5,271.5 654.0,273.0 648.0,270.0 648.0,250.5" fill="#00fadc" clip-path="url(#c12)"/>
<polygon points="570.0,243.0 579.0,243.0 582.0,247.5 576.0,247.5" fill="#00fadc" clip-path="url(#c12)"/>
<polygon points="569.3,231.0 580.5,232.5 582.0,241.5 576.0,243.0 569.3,243.0" fill="#e6e6e6" clip-path="url(#c12)"/>
<polygon points="595.5,234.0 607.5,234.7 607.5,240.0 597.0,240.0" fill="#e6e6e6" clip-path="url(#c12)"/>
<polygon points="585.0,243.0 600.0,243.0 600.0,249.0 586.5,249.0" fill="#e6e6e6" clip-path="url(#c12)"/>
<polygon points="594.0,261.0 603.0,259.5 609.0,265.5 606.0,271.5 597.0,271.5" fill="#e6e6e6" clip-path="url(#c12)"/>
<polygon points="634.5,256.5 640.5,253.5 645.0,262.5 645.0,273.0 637.5,273.0" fill="#e6e6e6" clip-path="url(#c12)"/>
<polygon points="651.0,244.5 666.0,241.5 667.5,270.0 660.0,270.0 654.0,264.0 651.0,255.0" fill="#e6e6e6" clip-path="url(#c12)"/>
<polygon points="664.5,240.0 690.7,237.0 690.7,270.0 666.0,270.0" fill="#1ef51e" clip-path="url(#c12)"/>
<polygon points="667.5,241.5 690.7,239.2 690.7,268.5 669.0,267.7" fill="#8cf500" clip-path="url(#c12)"/>
<polygon points="672.0,244.5 690.7,243.0 690.7,265.5 673.5,264.7" fill="#e8e800" clip-path="url(#c12)"/>
<polygon points="594.0,227.3 619.5,227.3 618.0,232.5 600.0,232.5" fill="#003cff" clip-path="url(#c12)"/>
<polygon points="663.0,227.3 690.7,227.3 690.7,234.0 666.0,234.0" fill="#003cff" clip-path="url(#c12)"/>
<polygon points="607.5,237.0 637.5,237.0 636.0,246.0 615.0,246.0 609.0,243.0" fill="#003cff" clip-path="url(#c12)"/>
<polygon points="582.0,252.0 592.5,253.5 592.5,262.5 583.5,262.5" fill="#003cff" clip-path="url(#c12)"/>
<polygon points="608.1,245.2 613.8,238.5 622.8,236.2 632.8,239.6 634.0,247.5 634.0,258.7 631.8,270.0 630.6,277.9 608.1,277.9 607.0,264.4 611.5,253.1" fill="#003cff" clip-path="url(#c12)"/>
<polygon points="569.3,270.7 600.0,271.2 645.0,270.0 690.7,270.0 690.7,277.5 645.0,277.5 569.3,274.5" fill="#003cff" clip-path="url(#c12)"/>
<polygon points="569.3,273.0 600.0,273.0 615.0,274.5 633.0,273.7 645.0,273.0 690.7,276.0 690.7,303.0 660.0,303.7 630.0,304.5 600.0,303.0 569.3,302.2" fill="#2800fa" clip-path="url(#c12)"/>
<polygon points="617.1,253.1 625.0,249.7 629.5,252.0 631.8,258.7 628.3,267.7 625.0,275.6 617.1,275.6 613.8,270.0 619.3,261.0" fill="#2800fa" clip-path="url(#c12)"/>
<polygon points="634.5,279.0 660.0,277.5 690.7,279.0 690.7,295.5 660.0,297.0 637.5,294.0 633.0,288.0" fill="#8200fa" clip-path="url(#c12)"/>
<polygon points="569.3,302.2 690.7,302.2 690.7,306.0 569.3,306.0" fill="#003cff" clip-path="url(#c12)"/>
<polygon points="654.3,227.3 742.0,227.3 742.0,318.7 654.3,318.7" fill="#00aaff" clip-path="url(#c13)"/>
<polygon points="674.5,227.3 730.0,227.3 727.0,231.0 700.0,232.2 676.0,231.7" fill="#003cff" clip-path="url(#c13)"/>
<polygon points="654.3,234.0 742.0,231.0 742.0,236.2 670.0,237.7 654.3,238.5" fill="#00fadc" clip-path="url(#c13)"/>
<polygon points="654.3,236.2 670.0,236.2 742.0,232.8 742.0,273.0 685.0,271.5 664.0,270.7 654.3,271.5" fill="#e6e6e6" clip-path="url(#c13)"/>
<polygon points="654.3,249.0 658.7,250.5 659.5,267.0 654.3,267.7" fill="#00fadc" clip-path="url(#c13)"/>
<polygon points="664.0,244.5 670.0,240.0 685.0,237.7 715.0,234.7 742.0,232.5 742.0,272.2 715.0,271.5 685.0,270.0 667.0,269.2 664.0,264.0" fill="#1ef51e" clip-path="url(#c13)"/>
<polygon points="666.2,247.5 671.5,242.2 685.0,240.0 715.0,236.7 742.0,234.7 742.0,270.7 715.0,270.0 685.0,268.5 669.2,267.3 666.2,262.5" fill="#8cf500" clip-path="url(#c13)"/>
<polygon points="677.5,250.5 685.0,244.5 715.0,239.2 742.0,237.0 742.0,270.0 715.0,269.2 685.0,267.3 677.5,262.5" fill="#e8e800" clip-path="url(#c13)"/>
<polygon points="695.5,260.2 700.0,253.5 715.0,250.5 742.0,249.7 742.0,269.2 715.0,268.5 700.0,265.5" fill="#ff8200" clip-path="url(#c13)"/>
<polygon points="654.3,271.5 685.0,272.2 742.0,273.7 742.0,318.7 654.3,318.7" fill="#003cff" clip-path="url(#c13)"/>
<polygon points="654.3,274.5 742.0,275.7 742.0,312.0 700.0,312.0 685.0,309.0 654.3,306.0" fill="#2800fa" clip-path="url(#c13)"/>
<polygon points="654.3,277.5 670.0,276.7 692.5,277.5 707.5,278.2 700.0,283.5 685.0,285.0 670.0,285.7 654.3,285.0" fill="#8200fa" clip-path="url(#c13)"/>
<polygon points="685.0,298.5 700.0,297.0 742.0,297.7 742.0,307.5 715.0,307.5 692.5,304.5" fill="#8200fa" clip-path="url(#c13)"/>
<polygon points="703.0,286.5 715.0,283.5 742.0,282.0 742.0,296.2 715.0,295.5 704.5,291.0" fill="#00aaff" clip-path="url(#c13)"/>
<polygon points="712.0,288.7 718.0,285.7 742.0,284.2 742.0,294.0 722.5,294.0 713.5,291.7" fill="#e6e6e6" clip-path="url(#c13)"/>
<polygon points="718.0,287.2 742.0,285.7 742.0,292.5 719.5,292.5" fill="#1ef51e" clip-path="url(#c13)"/>
<polygon points="725.5,288.0 742.0,287.2 742.0,291.7 727.0,291.0" fill="#e8e800" clip-path="url(#c13)"/>
<polygon points="639.3,289.3 742.4,289.3 742.4,350.4 639.3,350.4" fill="#e6e6e6" clip-path="url(#c14)"/>
<polygon points="639.3,289.3 742.4,289.3 742.4,321.5 712.2,317.6 692.5,314.3 672.8,311.7 659.7,305.1 639.3,308.4" fill="#00fadc" clip-path="url(#c14)"/>
<polygon points="639.3,289.3 742.4,289.3 742.4,319.5 712.2,315.6 692.5,312.3 676.7,309.7 666.2,304.4 653.1,304.4 639.3,306.4" fill="#00aaff" clip-path="url(#c14)"/>
<polygon points="639.3,289.3 742.4,289.3 742.4,317.6 712.2,313.6 692.5,309.7 679.4,307.1 672.8,303.1 659.7,300.5 639.3,303.1" fill="#003cff" clip-path="url(#c14)"/>
<polygon points="639.3,289.3 742.4,289.3 742.4,314.9 712.2,311.0 692.5,305.7 682.0,303.1 676.7,299.2 666.2,296.6 653.1,297.9 639.3,299.2" fill="#2800fa" clip-path="url(#c14)"/>
<polygon points="705.6,297.9 718.7,297.2 742.4,299.2 742.4,307.1 718.7,305.7 708.2,303.1" fill="#8200fa" clip-path="url(#c14)"/>
<polygon points="672.8,313.0 692.5,314.9 712.2,318.2 742.4,322.2 742.4,350.4 692.5,350.4 689.9,339.9 684.6,328.1 678.1,320.2 674.1,316.2" fill="#1ef51e" clip-path="url(#c14)"/>
<polygon points="679.4,316.2 692.5,316.9 712.2,320.2 742.4,324.1 742.4,350.4 695.1,350.4 692.5,339.9 687.2,328.1 680.7,321.5" fill="#8cf500" clip-path="url(#c14)"/>
<polygon points="683.3,321.5 699.1,320.8 718.7,325.4 730.6,332.0 725.3,337.2 712.2,339.9 695.1,340.5 692.5,333.3 687.2,326.7" fill="#e8e800" clip-path="url(#c14)"/>
<polygon points="659.7,305.7 664.9,306.4 674.1,308.4 672.8,313.6 670.2,318.9 666.2,319.5 662.3,316.2 659.7,311.0" fill="#1ef51e" clip-path="url(#c14)"/>
<polygon points="639.3,309.7 651.8,308.4 657.1,309.7 653.1,312.3 639.3,312.3" fill="#1ef51e" clip-path="url(#c14)"/>
<polygon points="639.3,313.0 647.9,314.9 655.7,314.3 659.7,316.2 653.1,320.2 639.3,320.8" fill="#00fadc" clip-path="url(#c14)"/>
<polygon points="639.3,342.5 650.5,342.2 659.7,345.1 663.6,350.4 639.3,350.4" fill="#1ef51e" clip-path="url(#c14)"/>
<polygon points="639.3,345.1 647.9,343.8 655.7,345.1 659.7,350.4 639.3,350.4" fill="#e8e800" clip-path="url(#c14)"/>
<polygon points="479.3,249.3 600.7,249.3 600.7,321.2 479.3,321.2" fill="#1ef51e" clip-path="url(#c15)"/>
<polygon points="489.0,249.3 546.0,249.3 549.0,265.0 552.0,272.5 540.0,275.5 525.0,280.0 513.0,287.5 507.0,295.0 505.5,302.5 495.0,307.0 486.0,307.0 487.5,287.5 495.0,272.5 501.0,265.0" fill="#e8e800" clip-path="url(#c15)"/>
<polygon points="501.0,280.0 502.5,265.0 513.0,259.0 525.0,253.0 540.0,249.3 544.5,249.3 544.5,265.0 537.0,269.5 525.0,274.0 510.0,280.0" fill="#ff8200" clip-path="url(#c15)"/>
<polygon points="479.3,249.3 489.0,249.3 492.0,259.0 499.5,265.0 495.0,272.5 487.5,287.5 484.5,302.5 486.0,310.0 479.3,313.0" fill="#e6e6e6" clip-path="url(#c15)"/>
<polygon points="546.0,249.3 573.0,249.3 564.0,254.5 558.0,259.0 556.5,269.5 553.5,272.5 549.0,265.0" fill="#e6e6e6" clip-path="url(#c15)"/>
<polygon points="559.5,257.5 570.0,256.0 574.5,262.0 573.0,269.5 564.0,272.5 558.0,271.0" fill="#e8e800" clip-path="url(#c15)"/>
<polygon points="570.0,249.3 600.7,249.3 600.7,272.5 585.0,272.5 579.0,271.0 576.0,265.0 573.0,257.5" fill="#00fadc" clip-path="url(#c15)"/>
<polygon points="576.0,249.3 600.7,249.3 600.7,271.0 583.5,272.5 580.5,265.0 579.0,256.0" fill="#00aaff" clip-path="url(#c15)"/>
<polygon points="585.0,253.0 594.0,251.5 597.0,259.0 591.0,262.0 585.0,259.0" fill="#003cff" clip-path="url(#c15)"/>
<polygon points="502.5,310.0 600.7,309.2 600.7,321.2 502.5,321.2" fill="#e8e800" clip-path="url(#c15)"/>
<polygon points="532.5,314.5 555.0,313.0 585.0,313.7 600.7,314.5 600.7,321.2 532.5,321.2" fill="#ff8200" clip-path="url(#c15)"/>
<polygon points="506.2,295.0 510.0,287.5 519.0,280.0 532.5,276.2 547.5,274.7 562.5,274.0 577.5,273.2 585.0,269.5 600.7,268.7 600.7,308.2 585.0,307.3 570.0,307.3 555.0,306.5 540.0,305.8 525.0,304.3 510.0,300.2" fill="#e6e6e6" clip-path="url(#c15)"/>
<polygon points="509.2,295.0 517.5,284.5 532.5,278.5 547.5,277.0 570.0,276.2 579.0,272.5 600.7,270.2 600.7,305.8 570.0,305.0 540.0,303.5 517.5,301.3" fill="#00fadc" clip-path="url(#c15)"/>
<polygon points="513.0,294.2 520.5,286.0 532.5,280.7 547.5,279.2 570.0,277.7 582.0,275.5 585.0,272.5 600.7,271.0 600.7,304.3 570.0,303.5 540.0,302.0 519.0,299.8" fill="#00aaff" clip-path="url(#c15)"/>
<polygon points="525.0,292.7 529.5,287.5 540.0,283.0 555.0,281.5 570.0,280.0 582.0,278.5 588.0,275.5 600.7,274.0 600.7,302.0 585.0,301.3 562.5,299.8 540.0,298.3 525.0,295.3" fill="#003cff" clip-path="url(#c15)"/>
<polygon points="570.0,286.7 577.5,282.2 588.0,279.2 600.7,277.7 600.7,301.3 585.0,299.8 573.0,295.3 570.0,290.8" fill="#2800fa" clip-path="url(#c15)"/>
<polygon points="82.0,199.0 244.0,199.0 244.0,271.0 82.0,271.0" fill="#e6e6e6" clip-path="url(#c16)"/>
<polygon points="82.0,199.0 177.0,199.0 175.0,206.0 171.0,210.0 153.0,215.0 133.0,218.0 113.0,222.0 93.0,225.0 82.0,226.4" fill="#00fadc" clip-path="url(#c16)"/>
<polygon points="82.0,199.0 173.0,199.0 169.0,206.0 159.0,210.0 143.0,214.0 123.0,217.0 103.0,221.0 82.0,223.0" fill="#00aaff" clip-path="url(#c16)"/>
<polygon points="82.0,199.0 123.0,199.0 126.0,204.0 123.0,212.0 113.0,216.0 93.0,219.0 82.0,220.0" fill="#003cff" clip-path="url(#c16)"/>
<polygon points="171.0,199.0 187.0,199.0 187.0,212.0 179.0,210.0 173.0,206.0" fill="#00fadc" clip-path="url(#c16)"/>
<polygon points="173.0,199.0 191.0,199.0 192.0,208.0 187.0,212.0 179.0,208.0" fill="#00aaff" clip-path="url(#c16)"/>
<polygon points="82.0,230.0 103.0,228.0 123.0,225.0 143.0,221.0 163.0,218.0 175.0,216.0 183.0,217.0 187.0,220.0 195.0,228.0 203.0,234.0 211.0,240.0 219.0,248.0 223.0,254.0 231.0,258.0 244.0,260.0 244.0,272.0 82.0,272.0" fill="#1ef51e" clip-path="url(#c16)"/>
<polygon points="82.0,233.0 103.0,231.0 123.0,228.0 143.0,224.0 163.0,220.0 177.0,219.0 185.0,222.0 191.0,230.0 199.0,236.0 207.0,242.0 215.0,250.0 221.0,256.0 227.0,260.0 244.0,262.0 244.0,272.0 82.0,272.0" fill="#8cf500" clip-path="url(#c16)"/>
<polygon points="82.0,236.0 103.0,234.0 123.0,232.0 143.0,228.0 163.0,225.0 179.0,224.0 187.0,228.0 195.0,234.0 203.0,240.0 211.0,248.0 217.0,254.0 221.0,260.0 82.0,260.0" fill="#e8e800" clip-path="url(#c16)"/>
<polygon points="82.0,251.0 103.0,251.6 123.0,252.4 143.0,253.0 163.0,252.4 183.0,252.4 187.0,254.0 183.0,257.0 163.0,258.0 143.0,259.0 123.0,260.0 103.0,262.0 82.0,264.0" fill="#ff8200" clip-path="url(#c16)"/>
<polygon points="186.0,199.0 244.0,199.0 244.0,233.0 235.0,234.0 232.0,244.0 235.0,254.0 240.0,258.0 230.0,256.0 222.0,252.0 220.0,248.0 213.0,242.0 205.0,235.0 197.0,225.0 192.0,212.0 187.0,200.0" fill="#e6e6e6" clip-path="url(#c16)"/>
<polygon points="235.0,234.0 244.0,232.0 244.0,254.0 235.0,254.0 232.0,244.0" fill="#1ef51e" clip-path="url(#c16)"/>
<polygon points="238.0,236.0 244.0,235.0 244.0,251.0 237.0,250.0 236.0,244.0" fill="#e8e800" clip-path="url(#c16)"/>
<polygon points="228.9,208.5 411.1,208.5 411.1,226.5 228.9,226.5" fill="#00fadc" clip-path="url(#c17)"/>
<polygon points="228.9,208.5 411.1,208.5 411.1,213.0 376.3,208.5 353.8,214.1 331.3,219.8 315.5,224.3 304.3,222.0 293.0,217.5 284.0,213.0 275.0,214.1 263.8,224.3 252.5,226.5 241.3,222.0 228.9,219.8" fill="#00aaff" clip-path="url(#c17)"/>
<polygon points="248.0,217.5 259.3,215.3 272.8,211.9 275.0,215.3 266.0,223.1 257.0,225.4 248.0,224.3" fill="#003cff" clip-path="url(#c17)"/>
<polygon points="281.8,216.4 288.5,215.3 302.0,217.5 315.5,223.1 320.0,226.5 311.0,228.3 297.5,228.8 288.5,226.5 285.1,220.9" fill="#e6e6e6" clip-path="url(#c17)"/>
<polygon points="385.3,207.4 411.1,207.4 411.1,220.9 403.3,222.0 396.5,215.3 387.5,209.0" fill="#e6e6e6" clip-path="url(#c17)"/>
<polygon points="228.9,216.4 248.0,225.4 259.3,226.5 268.3,224.3 270.5,228.8 263.8,232.1 252.5,233.3 239.0,234.4 228.9,235.5" fill="#e6e6e6" clip-path="url(#c17)"/>
<polygon points="269.4,219.8 277.3,214.1 285.1,212.6 288.1,216.4 285.8,221.6 288.5,226.5 297.5,229.2 315.5,228.8 331.3,223.1 353.8,216.4 376.3,210.3 387.5,208.5 396.5,215.3 403.3,222.0 394.3,231.0 387.5,240.0 383.0,253.5 385.3,267.0 392.0,271.5 411.1,276.0 411.1,289.5 320.0,289.5 297.5,276.0 275.0,269.3 259.3,267.0 243.5,262.5 236.8,253.5 234.5,240.0 239.0,233.3 252.5,232.1 263.8,231.0" fill="#1ef51e" clip-path="url(#c17)"/>
<polygon points="271.6,220.9 278.4,215.7 284.0,214.8 285.8,217.5 283.6,222.0 287.4,228.3 297.5,231.5 315.5,231.0 331.3,225.4 353.8,218.6 376.3,213.0 387.5,211.9 395.4,217.5 399.9,222.0 392.0,231.0 385.3,240.0 380.8,253.5 383.0,267.0 387.5,270.4 411.1,273.8 411.1,280.5 365.0,272.6 342.5,274.9 324.5,279.4 302.0,272.6 279.5,267.0 259.3,264.8 245.8,260.3 239.0,252.4 236.8,241.1 241.3,235.5 252.5,233.7 266.0,232.1" fill="#8cf500" clip-path="url(#c17)"/>
<polygon points="270.5,228.8 275.0,222.0 279.5,217.5 280.6,226.5 288.5,232.1 302.0,234.4 320.0,232.1 342.5,226.5 365.0,220.9 387.5,217.5 396.5,219.8 392.0,228.8 385.3,240.0 380.8,253.5 383.0,267.0 365.0,269.3 342.5,271.5 320.0,272.6 304.3,269.3 286.3,264.8 270.5,262.5 259.3,260.3 252.5,253.5 241.3,246.8 239.0,240.0 242.4,235.5 252.5,234.4 263.8,232.1" fill="#e8e800" clip-path="url(#c17)"/>
<polygon points="297.5,253.5 308.8,246.8 324.5,243.4 342.5,240.0 365.0,236.6 380.8,234.4 383.0,240.0 380.8,251.3 380.8,262.5 365.0,264.8 342.5,267.0 324.5,269.3 308.8,267.0 299.8,262.5" fill="#ff8200" clip-path="url(#c17)"/>
<polygon points="266.0,256.9 279.5,254.6 297.5,253.5 299.8,262.5 279.5,262.5 268.3,261.4" fill="#ff8200" clip-path="url(#c17)"/>
<polygon points="243.5,243.4 248.0,241.1 250.3,245.6 245.8,246.8" fill="#ff8200" clip-path="url(#c17)"/>
<polygon points="228.9,235.5 234.5,236.6 233.4,244.5 236.8,253.5 243.5,260.3 228.9,262.5" fill="#e6e6e6" clip-path="url(#c17)"/>
<polygon points="403.3,222.0 411.1,219.8 411.1,276.0 392.0,271.5 385.3,267.0 383.0,253.5 387.5,240.0 394.3,231.0" fill="#e6e6e6" clip-path="url(#c17)"/>
<polygon points="228.9,255.8 243.5,260.3 257.0,267.0 263.8,271.5 263.8,285.0 228.9,285.0" fill="#00fadc" clip-path="url(#c17)"/>
<polygon points="228.9,260.3 243.5,263.6 254.8,269.3 259.3,285.0 228.9,285.0" fill="#00aaff" clip-path="url(#c17)"/>
<polygon points="228.9,264.8 248.0,267.0 254.8,273.8 254.8,285.0 228.9,285.0" fill="#003cff" clip-path="url(#c17)"/>
<polygon points="80.9,339.9 132.5,339.9 124.2,346.1 107.8,349.2 95.4,351.3 80.9,351.9" fill="#1ef51e" clip-path="url(#c18)"/>
<polygon points="80.9,339.9 113.9,339.9 103.6,345.1 80.9,347.2" fill="#8cf500" clip-path="url(#c18)"/>
<polygon points="192.3,339.9 250.1,339.9 250.1,356.4 227.4,352.3 206.8,348.2" fill="#1ef51e" clip-path="url(#c18)"/>
<polygon points="202.6,339.9 250.1,339.9 250.1,353.3 227.4,349.2 210.9,344.1" fill="#8cf500" clip-path="url(#c18)"/>
<polygon points="217.1,339.9 250.1,339.9 250.1,349.2 231.5,345.1" fill="#e8e800" clip-path="url(#c18)"/>
<polygon points="80.9,370.9 140.8,370.9 153.1,369.8 144.9,364.7 157.2,362.6 173.8,359.5 194.4,357.5 217.1,356.9 250.1,357.5 250.1,430.7 227.4,432.8 210.9,436.9 198.5,434.8 182.0,429.7 165.5,428.2 144.9,428.6 120.1,429.7 116.0,425.5 103.6,423.5 80.9,423.5" fill="#00fadc" clip-path="url(#c18)"/>
<polygon points="113.9,363.2 119.1,362.6 119.7,365.1 114.3,365.7" fill="#00fadc" clip-path="url(#c18)"/>
<polygon points="140.8,363.7 151.1,362.6 157.2,366.8 153.1,370.5 142.8,368.8" fill="#00fadc" clip-path="url(#c18)"/>
<polygon points="80.9,372.9 124.2,372.9 155.2,375.0 171.7,377.1 186.1,372.9 198.5,366.8 206.8,363.7 227.4,362.6 250.1,363.7 250.1,420.4 237.7,418.3 227.4,421.4 206.8,422.4 186.1,422.9 165.5,422.4 144.9,422.4 138.7,416.2 124.2,416.2 103.6,414.2 80.9,414.2" fill="#00aaff" clip-path="url(#c18)"/>
<polygon points="138.7,414.2 151.1,412.7 163.4,414.2 159.3,417.3 144.9,417.3" fill="#00fadc" clip-path="url(#c18)"/>
<polygon points="80.9,378.1 103.6,378.1 124.2,380.2 136.6,385.3 142.8,391.5 138.7,396.7 124.2,401.8 103.6,403.9 80.9,404.9" fill="#003cff" clip-path="url(#c18)"/>
<polygon points="235.6,414.2 243.9,410.1 250.1,409.0 250.1,419.3 239.8,419.3" fill="#003cff" clip-path="url(#c18)"/>
<polygon points="245.9,339.9 281.0,339.9 278.9,354.4 272.8,362.6 260.4,362.6 245.9,361.6" fill="#1ef51e" clip-path="url(#c19)"/>
<polygon points="245.9,339.9 278.9,339.9 276.9,352.3 270.7,359.5 260.4,359.5 245.9,358.5" fill="#8cf500" clip-path="url(#c19)"/>
<polygon points="245.9,339.9 276.9,339.9 274.8,350.2 268.6,355.4 258.3,355.4 245.9,354.4" fill="#e8e800" clip-path="url(#c19)"/>
<polygon points="287.2,368.8 293.4,362.6 301.6,356.4 307.8,352.3 316.1,346.1 320.2,339.9 328.4,339.9 329.5,358.5 326.4,363.7 309.9,367.8 299.6,375.0 293.4,381.2 289.2,383.2" fill="#1ef51e" clip-path="url(#c19)"/>
<polygon points="289.2,368.8 297.5,361.6 305.8,355.4 314.0,350.2 322.2,344.1 326.4,346.1 326.4,360.6 309.9,365.7 297.5,372.9 291.3,379.1" fill="#8cf500" clip-path="url(#c19)"/>
<polygon points="297.5,366.8 303.7,360.6 309.9,356.4 318.1,350.2 322.2,352.3 322.2,362.6 309.9,366.8 301.6,369.8" fill="#e8e800" clip-path="url(#c19)"/>
<polygon points="371.8,339.9 415.1,339.9 415.1,357.5 404.8,352.3 384.1,345.1" fill="#1ef51e" clip-path="url(#c19)"/>
<polygon points="388.2,339.9 415.1,339.9 415.1,354.4 400.6,348.2" fill="#8cf500" clip-path="url(#c19)"/>
<polygon points="396.5,339.9 415.1,339.9 415.1,350.2 406.8,346.1" fill="#e8e800" clip-path="url(#c19)"/>
<polygon points="340.8,346.1 351.1,344.1 363.5,348.2 371.8,356.4 367.6,362.6 355.2,364.7 351.1,360.6 342.9,356.4 339.8,351.3" fill="#00fadc" clip-path="url(#c19)"/>
<polygon points="245.9,364.7 258.3,364.7 268.6,361.6 278.9,366.8 289.2,372.9 309.9,368.8 330.5,366.8 351.1,365.7 371.8,364.7 415.1,364.7 415.1,423.5 392.4,424.5 371.8,426.6 361.4,426.6 351.1,430.7 330.5,430.7 309.9,428.6 299.6,425.5 293.4,428.6 278.9,430.7 268.6,432.8 245.9,432.8" fill="#00fadc" clip-path="url(#c19)"/>
<polygon points="245.9,368.8 268.6,368.8 289.2,372.9 309.9,370.9 330.5,367.8 351.1,366.8 371.8,366.8 392.4,366.3 415.1,366.8 415.1,414.2 392.4,416.2 371.8,410.1 351.1,409.0 334.6,412.1 326.4,420.4 309.9,420.4 301.6,412.1 295.4,412.1 289.2,420.4 278.9,422.4 268.6,421.4 245.9,420.4" fill="#00aaff" clip-path="url(#c19)"/>
<polygon points="268.6,368.8 274.8,362.6 283.1,364.7 286.2,372.9 287.2,383.2 289.2,389.4 278.9,391.5 270.7,387.4 268.6,379.1" fill="#003cff" clip-path="url(#c19)"/>
<polygon points="272.8,368.8 278.9,364.7 283.1,370.9 284.1,381.2 281.0,383.2 274.8,379.1" fill="#2800fa" clip-path="url(#c19)"/>
<polygon points="245.9,403.9 268.6,403.9 289.2,401.8 301.6,403.9 297.5,408.0 283.1,413.2 268.6,416.2 245.9,417.3" fill="#003cff" clip-path="url(#c19)"/>
<polygon points="396.5,382.2 408.9,382.2 408.9,385.3 396.5,385.3" fill="#003cff" clip-path="url(#c19)"/>
<polygon points="410.9,339.9 580.1,339.9 580.1,357.5 557.4,354.4 536.8,351.3 516.1,350.2 495.5,352.3 491.4,358.5 474.9,362.6 454.2,363.7 433.6,363.7 410.9,362.6" fill="#1ef51e" clip-path="url(#c20)"/>
<polygon points="410.9,339.9 580.1,339.9 580.1,354.4 557.4,350.2 536.8,347.2 516.1,346.1 493.4,348.2 487.2,354.4 474.9,359.5 454.2,361.0 433.6,361.0 410.9,359.5" fill="#8cf500" clip-path="url(#c20)"/>
<polygon points="410.9,339.9 443.9,339.9 443.9,348.2 454.2,351.3 470.8,349.2 481.1,346.1 483.1,352.3 474.9,357.5 454.2,358.5 433.6,358.5 410.9,357.5" fill="#e8e800" clip-path="url(#c20)"/>
<polygon points="528.5,339.9 580.1,339.9 580.1,350.2 557.4,347.2 540.9,344.1" fill="#e8e800" clip-path="url(#c20)"/>
<polygon points="441.9,355.4 450.1,354.0 460.4,354.4 462.5,356.4 454.2,358.1 443.9,357.5" fill="#ff8200" clip-path="url(#c20)"/>
<polygon points="443.9,339.9 468.7,339.9 466.6,346.1 460.4,349.2 450.1,350.2 446.0,348.2" fill="#e6e6e6" clip-path="url(#c20)"/>
<polygon points="410.9,364.7 433.6,365.7 454.2,366.8 474.9,364.7 495.5,362.6 516.1,361.6 536.8,362.6 545.0,368.8 549.1,372.9 557.4,368.8 561.5,365.7 580.1,364.7 580.1,412.1 557.4,410.1 536.8,412.1 516.1,413.2 495.5,414.2 474.9,416.2 464.6,420.4 454.2,416.2 433.6,415.2 410.9,418.3" fill="#00fadc" clip-path="url(#c20)"/>
<polygon points="410.9,367.8 454.2,368.8 474.9,367.8 495.5,365.7 516.1,364.7 532.6,365.7 540.9,369.8 547.1,375.0 557.4,372.9 580.1,370.9 580.1,410.1 557.4,410.1 536.8,411.1 516.1,410.1 495.5,412.1 474.9,415.2 454.2,415.2 433.6,414.2 410.9,415.2" fill="#00aaff" clip-path="url(#c20)"/>
<polygon points="462.5,383.2 481.1,375.0 499.6,370.9 516.1,368.8 522.3,372.9 526.4,379.1 536.8,385.3 547.1,387.4 551.2,383.2 557.4,380.2 580.1,380.2 580.1,395.6 557.4,397.7 547.1,395.6 536.8,391.5 516.1,392.5 495.5,388.4 474.9,385.3" fill="#003cff" clip-path="url(#c20)"/>
<polygon points="489.3,405.9 499.6,401.8 512.0,399.8 520.2,400.8 522.3,404.9 512.0,408.0 499.6,410.1 491.4,410.1" fill="#003cff" clip-path="url(#c20)"/>
<polygon points="575.9,339.9 745.1,339.9 745.1,364.7 734.8,366.8 726.5,372.9 712.1,370.9 701.8,370.9 691.4,370.9 681.1,369.8 660.5,365.7 639.9,363.7 619.2,361.6 598.6,360.6 575.9,359.5" fill="#1ef51e" clip-path="url(#c21)"/>
<polygon points="575.9,339.9 745.1,339.9 745.1,354.4 722.4,356.4 712.1,360.6 701.8,364.7 691.4,366.8 681.1,364.7 660.5,361.6 639.9,359.5 619.2,358.1 598.6,356.9 575.9,356.4" fill="#8cf500" clip-path="url(#c21)"/>
<polygon points="575.9,339.9 625.4,339.9 625.4,349.2 635.8,350.7 656.4,347.8 660.5,351.3 670.8,357.5 677.0,360.6 681.1,364.7 687.3,361.6 693.5,350.2 699.7,350.2 701.8,356.4 695.6,362.6 691.4,365.7 681.1,366.3 660.5,362.6 639.9,358.9 619.2,356.4 598.6,354.4 575.9,353.3" fill="#e8e800" clip-path="url(#c21)"/>
<polygon points="598.6,339.9 619.2,339.9 619.2,348.2 608.9,347.2 598.6,344.1" fill="#ff8200" clip-path="url(#c21)"/>
<polygon points="623.4,339.9 693.5,339.9 691.4,348.2 685.2,356.4 679.1,358.5 674.9,356.4 664.6,350.2 656.4,347.2 639.9,349.2 625.4,350.2" fill="#e6e6e6" clip-path="url(#c21)"/>
<polygon points="712.1,356.4 726.5,353.3 734.8,354.4 738.9,358.5 732.7,362.6 722.4,366.8 714.1,364.7" fill="#e6e6e6" clip-path="url(#c21)"/>
<polygon points="575.9,364.7 598.6,365.7 619.2,366.8 639.9,367.8 660.5,368.8 681.1,371.9 691.4,375.0 701.8,372.9 712.1,370.9 722.4,368.8 730.6,366.8 745.1,365.7 745.1,424.5 734.8,422.4 722.4,422.9 701.8,421.0 660.5,422.9 619.2,418.9 575.9,414.8" fill="#00fadc" clip-path="url(#c21)"/>
<polygon points="575.9,368.8 598.6,369.8 619.2,370.9 639.9,371.9 660.5,372.9 681.1,376.0 693.5,378.1 701.8,376.0 718.2,372.9 728.6,369.8 745.1,368.8 745.1,422.4 722.4,419.3 712.1,416.2 701.8,412.1 681.1,411.1 660.5,410.1 639.9,409.0 619.2,408.4 598.6,408.0 575.9,409.0" fill="#00aaff" clip-path="url(#c21)"/>
<polygon points="718.2,368.8 726.5,362.6 732.7,358.5 734.8,360.6 726.5,368.8 720.3,372.9" fill="#00aaff" clip-path="url(#c21)"/>
<polygon points="575.9,381.2 598.6,381.6 619.2,383.2 629.6,386.3 639.9,384.3 660.5,382.2 681.1,383.2 701.8,385.3 712.1,389.4 722.4,386.3 732.7,379.1 745.1,377.1 745.1,414.2 734.8,412.1 722.4,410.1 701.8,409.0 681.1,405.9 660.5,404.9 639.9,403.9 633.7,399.8 639.9,393.6 629.6,390.5 619.2,388.4 598.6,388.4 575.9,389.4" fill="#003cff" clip-path="url(#c21)"/>
<polygon points="582.1,399.8 592.4,396.7 600.7,397.7 601.7,401.8 594.5,403.9 584.2,403.9" fill="#003cff" clip-path="url(#c21)"/>
<polygon points="81.8,298.8 284.2,298.8 284.2,376.2 81.8,376.2" fill="#e6e6e6" clip-path="url(#c22)"/>
<polygon points="81.8,322.5 108.0,322.5 133.0,320.0 135.5,298.8 284.2,298.8 284.2,362.5 273.0,362.5 258.0,358.8 233.0,352.5 208.0,345.0 183.0,340.0 158.0,337.5 138.0,335.0 133.0,342.5 108.0,348.8 81.8,351.2" fill="#1ef51e" clip-path="url(#c22)"/>
<polygon points="134.2,298.8 284.2,298.8 284.2,360.0 270.5,357.5 233.0,348.8 183.0,335.0 158.0,330.0 133.0,327.5 131.8,315.0" fill="#8cf500" clip-path="url(#c22)"/>
<polygon points="81.8,327.5 98.0,328.8 108.0,333.8 103.0,340.0 81.8,341.2" fill="#8cf500" clip-path="url(#c22)"/>
<polygon points="136.8,298.8 284.2,298.8 284.2,353.8 270.5,353.8 258.0,350.0 233.0,345.0 208.0,337.5 183.0,332.5 158.0,327.5 135.5,323.8 134.2,310.0" fill="#e8e800" clip-path="url(#c22)"/>
<polygon points="148.0,302.5 183.0,301.2 220.5,303.8 253.0,307.5 268.0,315.0 270.5,325.0 258.0,326.2 233.0,323.8 208.0,321.2 183.0,320.0 158.0,318.8 148.0,312.5" fill="#ff8200" clip-path="url(#c22)"/>
<polygon points="81.8,366.2 108.0,365.0 133.0,363.8 158.0,362.5 183.0,358.8 208.0,356.2 233.0,355.5 258.0,357.0 284.2,360.0 284.2,376.2 81.8,376.2" fill="#00fadc" clip-path="url(#c22)"/>
<polygon points="195.5,365.5 220.5,362.5 258.0,361.2 284.2,362.5 284.2,376.2 195.5,376.2" fill="#00aaff" clip-path="url(#c22)"/>
</g>
<g clip-path="url(#mc)" fill="none" stroke="#000" stroke-width="1.1" stroke-linejoin="round">
<polyline points="105.0,167.0 106.9,164.6 108.6,162.0 111.4,160.9 113.6,159.6 115.9,158.6 118.7,158.1 121.4,157.5 126.0,156.5 130.6,157.3 134.2,157.5 137.9,157.6 141.5,158.4 144.6,158.5 147.6,158.6 150.7,158.7 154.3,159.7 158.0,160.3 161.7,160.8 164.4,160.2 167.2,159.8 170.8,159.2 174.5,158.9 177.2,158.7 180.0,158.6 182.6,159.5 185.4,160.0 189.1,159.9 192.8,160.2 195.8,160.5 198.9,161.2 201.9,161.5 204.9,162.0 208.0,162.4 211.1,162.4 214.7,162.2 218.4,161.5 221.4,161.9 224.5,162.5 227.5,163.0 230.3,162.6 233.0,162.0 236.7,162.2 237.4,159.1 238.5,156.2 242.2,158.9 244.9,160.2 247.7,161.1 250.3,162.4 253.1,163.3 256.8,160.2 259.5,161.3 262.3,161.7 263.2,164.4 258.6,165.7 256.9,167.6 255.0,169.4 251.3,169.9 248.6,170.9 245.8,171.7 243.0,173.4 240.3,175.4 239.4,179.1 241.1,181.0 243.1,182.7 245.9,183.0 248.6,183.4 251.3,184.2 254.0,185.3 256.8,186.0 261.7,186.4 261.9,190.2 265.0,193.2 267.8,192.8 267.5,190.1 267.8,187.3 271.4,184.6 271.4,180.0 269.6,176.3 270.5,172.8 273.7,173.0 276.9,173.0 279.7,173.9 282.4,175.0 285.2,179.1 289.7,180.3 291.6,178.5 293.4,176.7 295.2,180.0 297.0,181.8 298.9,183.6 302.5,185.5 304.9,187.2 307.1,189.1 309.9,192.8 307.2,194.1 304.4,195.0 301.3,195.0 298.3,195.0 295.2,195.2 290.6,196.8 294.3,197.7 293.4,199.9 294.8,202.3 297.3,202.7 299.8,203.4 302.5,202.9 299.7,203.8 297.0,205.2 294.2,205.8 291.6,206.9 294.3,204.2 290.6,204.5 289.7,205.4 287.0,206.2 284.2,206.9 282.8,209.1 283.9,210.6 281.5,211.3 276.9,212.8 276.9,214.8 275.1,216.1 273.3,219.3 274.2,222.5 271.4,223.9 267.8,226.1 264.1,229.1 263.6,233.1 264.5,235.4 265.8,237.7 265.4,240.8 263.6,240.2 261.2,236.7 260.8,234.0 258.6,232.2 255.0,231.4 251.3,231.3 248.7,233.6 245.8,233.3 243.1,233.3 240.3,232.9 237.5,234.5 234.8,236.2 234.4,238.8 233.9,241.3 233.6,244.1 233.6,246.8 234.8,249.6 237.6,252.9 239.4,253.8 244.0,253.0 246.2,251.4 247.1,248.6 250.2,248.5 253.1,247.7 252.8,250.5 252.2,253.2 250.8,257.8 255.0,258.0 258.6,259.3 258.9,261.8 259.7,264.2 259.4,267.3 262.3,270.6 266.9,269.7 270.5,271.4 272.4,269.7 274.2,267.9 276.9,266.6 280.2,265.5 281.7,264.4 282.2,266.6 284.2,265.9 287.0,267.7 291.6,267.7 295.2,267.5 298.9,267.7 300.7,269.2 301.6,271.4 304.4,272.5 307.1,275.7 311.7,276.3 315.3,277.0 318.1,279.2 319.6,281.4 320.5,283.8 320.8,287.1 323.6,288.9 326.8,289.3 330.0,289.8 332.8,290.8 335.5,292.2 338.2,292.9 341.0,293.5 344.6,296.3 347.9,297.2 348.3,301.7 346.5,304.5 344.6,307.2 341.3,310.9 341.4,313.7 341.0,316.4 340.0,319.6 339.5,322.8 338.7,325.2 337.3,327.4 333.6,329.2 330.0,330.5 327.4,332.4 324.5,333.8 323.4,338.4 320.8,342.0 318.1,345.3 315.3,349.0 312.6,350.8 308.9,350.8 305.3,349.9 307.7,353.0 308.4,354.5 306.9,357.0 304.3,357.7 301.5,357.8 298.9,358.5 298.3,361.8 293.4,362.2 294.3,364.9 293.0,368.8 288.8,371.3 291.6,374.1 288.3,377.7 286.1,381.4 287.2,382.9 283.3,384.1 282.4,385.6 277.8,383.8 275.1,380.5 274.7,377.7 274.2,375.0 276.9,371.9 276.9,367.7 278.8,364.0 277.3,360.3 277.6,357.6 277.8,354.9 279.1,352.1 280.6,349.4 280.8,345.7 281.5,342.0 281.6,339.3 281.9,336.5 282.5,332.9 283.3,329.2 283.5,325.5 283.9,321.9 281.5,319.1 278.2,317.5 275.1,315.5 272.3,311.8 271.2,309.4 269.6,307.2 268.4,304.4 266.9,301.7 264.1,298.1 263.7,295.3 265.9,292.6 265.0,288.9 265.9,285.3 268.1,283.8 270.5,280.1 270.9,275.2 269.6,273.4 266.9,271.0 265.0,273.4 262.3,272.1 258.6,269.7 255.5,268.8 255.5,266.6 252.2,263.3 249.5,262.4 244.9,261.5 242.2,258.2 238.9,257.4 235.8,258.4 233.0,257.4 230.3,256.3 227.5,255.1 223.0,253.6 219.3,250.5 219.7,247.7 218.4,245.4 216.1,242.8 213.8,240.4 211.1,237.7 209.0,236.1 207.4,234.0 205.3,231.5 202.8,229.4 205.6,233.1 206.5,235.8 208.3,239.5 210.1,242.8 212.0,245.0 210.7,244.4 207.4,241.7 207.0,238.6 203.7,235.8 201.9,232.5 199.2,229.1 197.9,227.2 195.5,224.8 191.7,223.7 189.3,220.1 188.2,217.9 185.8,214.2 184.9,211.1 185.1,207.4 185.4,202.5 184.2,198.5 187.3,198.7 186.9,197.2 184.5,195.5 182.1,194.4 180.0,192.8 178.1,191.0 174.5,187.9 172.6,185.5 169.0,182.7 166.6,181.4 164.4,180.0 160.8,179.4 156.2,177.8 153.5,177.3 150.7,177.2 148.0,176.4 145.2,175.8 141.5,176.9 137.9,175.4 135.1,178.5 130.6,180.3 130.6,181.8 127.7,182.5 125.1,183.6 122.4,184.8 119.6,185.5 116.8,186.0 114.1,186.8 111.4,187.3 115.9,185.5 118.5,183.4 121.4,181.8 125.1,179.6 122.3,179.2 119.6,179.4 115.9,177.6 111.4,175.8 109.5,173.6 111.4,171.4 114.5,170.1 117.8,169.5 117.8,168.8 114.1,169.0 111.3,169.1 108.6,168.8 105.0,167.0"/>
<polyline points="286.8,383.4 289.0,385.7 291.6,387.4 287.9,388.7 285.2,388.1 282.4,387.8 279.5,386.2 276.9,384.1 280.1,384.2 283.3,384.5 286.8,383.4"/>
<polyline points="278.8,143.4 281.3,142.5 283.8,141.3 286.5,140.9 289.0,139.7 291.6,138.8 294.3,138.6 297.0,137.9 299.8,137.2 302.5,136.9 305.3,137.1 308.0,136.4 310.8,136.9 313.5,136.4 316.2,136.2 319.0,136.2 321.7,136.3 324.5,136.0 327.2,136.3 330.0,136.0 332.6,136.0 335.2,135.5 337.9,135.2 340.6,135.3 343.2,135.1 345.9,135.1 348.5,134.4 351.1,134.1 353.8,134.2 356.4,134.5 359.0,135.1 361.6,134.9 364.2,135.2 366.9,135.2 369.5,135.6 372.1,136.0 373.8,138.4 375.7,140.6 377.7,143.3 379.4,146.1 377.6,148.9 375.7,151.6 373.9,153.5 372.1,155.3 370.3,157.2 368.4,158.9 365.6,159.5 362.8,160.2 360.1,161.2 357.4,162.0 355.1,163.1 352.8,164.1 350.5,165.1 348.3,166.2 345.2,166.7 342.1,167.2 339.1,168.1 337.3,170.0 335.5,171.7 334.6,174.5 333.6,177.2 330.8,176.8 328.1,175.8 325.4,174.7 322.7,173.6 320.8,171.8 319.0,169.9 317.0,168.2 315.3,166.2 313.5,161.7 316.3,160.4 319.0,158.9 316.6,158.0 314.2,157.5 311.7,157.1 311.1,154.2 309.9,151.6 307.3,149.5 304.4,147.9 301.8,147.6 299.2,147.8 296.7,147.9 294.1,147.8 291.6,147.9 288.6,146.7 285.4,146.4 282.4,145.2 278.8,143.4"/>
<polyline points="265.9,169.9 262.9,170.1 259.9,170.8 256.8,170.8 253.1,169.0 256.8,166.2 259.6,167.0 262.3,168.1 265.9,169.9"/>
<polyline points="304.4,199.9 307.6,200.7 310.8,201.4 315.3,201.8 315.9,199.6 314.4,197.0 310.8,195.9 309.9,192.8 307.1,194.6 304.4,198.3 304.4,199.9"/>
<polyline points="186.4,198.7 182.7,197.4 180.3,195.5 177.6,194.1 180.0,194.4 184.5,196.5 186.4,198.7"/>
<polyline points="256.8,247.2 259.5,245.8 262.3,244.8 265.9,245.0 268.5,246.6 271.4,247.7 274.1,248.7 276.6,250.1 273.6,250.5 270.5,250.7 269.6,249.2 265.0,247.2 261.4,246.4 256.8,247.2"/>
<polyline points="276.0,253.4 279.1,250.7 281.7,251.0 284.2,251.0 287.3,253.0 284.2,253.8 281.5,254.9 278.7,254.3 276.0,253.4"/>
<polyline points="269.1,253.4 272.9,254.1 271.4,254.5 269.1,253.4"/>
<polyline points="289.4,253.2 292.3,253.6 291.6,254.1 289.4,254.1 289.4,253.2"/>
<polyline points="128.7,251.9 126.9,251.9 127.1,250.1 128.7,250.5 128.7,251.9"/>
<polyline points="125.8,249.2 125.1,248.3 122.9,247.7 120.3,246.6"/>
<polyline points="97.6,191.7 94.0,191.5"/>
<polyline points="90.3,192.1 86.7,192.2"/>
<polyline points="105.0,189.7 101.3,190.4"/>
<polyline points="109.5,188.2 107.1,188.8"/>
<polyline points="737.9,192.1 740.7,192.6"/>
<polyline points="728.8,190.2 730.6,190.6"/>
<polyline points="244.0,201.6 246.8,200.2 249.5,198.7 252.2,198.4 255.0,197.9 257.7,200.1 257.5,202.0 253.1,202.0 250.1,201.9 247.0,202.0 244.0,201.6"/>
<polyline points="251.7,210.2 252.2,207.0 252.2,203.8 256.8,202.9 255.9,205.6 254.1,209.8 251.7,210.2"/>
<polyline points="261.4,208.4 260.2,205.5 258.6,202.9 263.2,202.9 265.9,205.6 263.7,207.0 261.4,208.4"/>
<polyline points="259.5,210.7 262.3,210.3 265.0,209.4 267.8,208.7 267.4,209.5 264.0,210.6 260.5,211.1 259.5,210.7"/>
<polyline points="266.3,207.8 269.6,207.2 272.7,206.2 272.9,207.4 269.6,207.9 266.3,207.8"/>
<polyline points="227.5,182.7 223.9,180.0 222.0,178.1"/>
<polyline points="211.1,179.1 208.4,177.1 205.6,175.4 201.9,175.3 198.3,174.5"/>
<polyline points="190.9,167.2 188.1,166.4 185.4,165.3"/>
<polyline points="402.1,221.2 404.1,219.9 408.6,219.9 411.4,217.0 412.7,215.7 411.8,214.8 414.1,212.0 418.2,210.4 418.0,208.4 419.6,207.4 423.3,208.2 426.0,206.9 428.4,205.8 431.0,206.7 432.4,209.5 436.1,211.7 438.3,212.4 441.0,213.9 441.6,217.5 440.8,217.2 442.7,215.1 443.4,215.7 446.1,213.5 443.4,212.8 441.6,211.1 437.9,209.3 434.8,205.6 435.2,203.8 437.5,203.6 438.8,204.3 440.7,206.5 443.4,208.4 445.7,209.4 448.0,210.6 447.6,213.1 450.7,216.6 451.6,219.3 453.5,220.4 454.4,218.4 456.2,217.5 455.3,215.1 454.0,212.9 456.2,212.6 459.9,212.4 460.2,213.9 460.8,215.7 461.7,217.5 463.5,219.7 467.2,220.6 471.8,221.0 475.4,219.7 478.2,219.9 477.8,223.0 476.3,226.7 475.4,229.4 471.6,230.2 467.2,229.8 464.1,229.9 461.1,229.2 458.0,229.2 454.9,229.4 451.9,230.0 448.9,230.5 447.1,231.6 448.9,228.5 445.8,228.4 442.8,227.9 439.7,228.0 436.6,226.9 433.3,226.3 430.6,223.9 432.4,219.5 430.6,218.8 426.9,219.5 423.9,219.2 420.8,219.8 417.8,219.7 415.4,220.6 413.0,221.5 410.5,222.1 408.6,222.8 405.4,222.5 402.2,221.5 400.8,222.1 398.8,223.9 396.8,225.7 394.9,227.6 394.6,232.2 392.4,234.0 390.3,235.8 388.5,237.7 386.5,240.3 384.9,243.2 383.0,244.1 381.2,248.6 382.5,251.4 382.3,254.1 382.1,256.9 380.5,260.2 381.7,263.3 383.9,266.0 385.9,267.7 387.6,269.7 389.4,272.5 393.1,275.2 395.9,277.0 398.6,279.0 401.8,278.3 405.0,277.6 408.6,278.3 411.3,277.1 414.1,276.1 417.8,275.4 421.4,276.7 423.3,279.2 426.9,278.9 429.7,280.1 430.2,282.9 429.7,285.3 428.8,288.9 431.2,291.6 433.3,294.4 434.8,298.1 435.7,300.9 436.8,303.6 436.4,306.4 435.8,309.1 435.2,311.8 434.7,315.1 433.9,318.2 435.1,320.8 436.4,323.2 437.7,325.7 438.8,328.3 439.5,331.9 439.7,335.6 442.5,339.5 443.8,342.2 445.2,344.8 446.0,349.4 448.9,350.8 453.5,349.4 456.2,349.0 459.0,349.4 462.6,347.5 465.0,345.9 467.2,343.9 469.6,341.7 471.8,339.3 472.3,334.7 474.7,332.8 477.2,331.0 476.9,327.4 475.8,323.7 479.1,321.5 481.2,319.6 483.6,318.2 486.4,314.6 486.6,310.9 486.4,307.2 485.5,304.9 485.4,302.3 484.6,299.9 483.6,296.3 484.7,293.8 486.4,291.7 489.1,288.9 490.7,286.4 492.8,284.4 494.6,282.5 496.6,280.8 498.3,278.9 500.3,275.7 501.9,272.5 503.9,269.8 505.6,267.0 506.0,265.5 501.9,266.4 498.3,267.4 494.6,267.9 491.3,265.9 490.1,263.3 487.8,261.0 485.5,258.7 484.3,256.3 482.7,254.1 481.7,251.3 480.4,248.6 479.2,245.9 477.8,243.2 476.1,240.4 474.5,237.7 473.2,235.0 471.9,232.3 472.3,233.1 476.0,235.8 476.3,235.8 479.1,239.5 481.8,243.2 483.6,246.8 485.5,250.5 486.9,252.7 488.2,255.1 489.4,257.5 490.6,260.0 491.5,263.8 494.6,263.7 497.5,262.9 500.1,261.5 502.6,260.8 505.0,259.5 507.4,258.7 510.3,257.4 512.9,255.6 516.6,252.5 519.3,249.6 521.7,245.9 519.3,243.7 515.5,241.5 515.3,238.9 513.8,240.4 511.1,242.8 507.4,243.2 506.5,240.4 506.0,239.3 504.7,241.3 503.8,238.6 501.0,234.9 500.1,232.2 501.9,231.3 503.8,232.2 506.5,236.2 510.2,238.0 514.7,237.5 517.1,239.9 520.2,240.6 524.8,241.0 529.4,240.8 534.0,240.6 535.8,243.2 538.2,245.4 538.5,246.3 541.3,248.8 545.1,248.1 545.5,252.3 546.0,255.1 546.8,257.8 548.6,262.4 550.4,267.0 552.3,271.0 554.1,272.5 555.4,270.8 558.3,268.2 558.7,265.3 559.0,262.4 558.7,258.7 560.5,257.8 562.9,256.7 566.0,253.8 568.7,251.2 571.5,247.7 574.2,246.8 577.0,246.8 579.7,245.9 581.2,248.6 582.9,250.7 584.6,252.7 584.7,255.2 584.8,257.8 586.6,258.4 590.9,256.9 591.7,259.6 592.0,262.4 592.6,265.6 592.7,268.8 592.1,272.5 595.6,275.6 596.0,277.9 597.6,281.6 599.6,283.2 601.6,284.7 602.9,284.5 601.5,279.8 599.5,275.7 596.7,274.3 595.8,271.5 594.9,268.8 593.8,265.1 595.2,262.6 596.9,263.7 598.9,265.1 600.7,267.9 604.0,271.4 604.6,271.4 607.7,268.1 611.7,266.0 612.4,263.3 611.2,259.1 608.1,256.0 606.2,252.7 605.9,250.8 607.5,249.0 609.9,247.7 613.0,247.7 613.9,249.7 615.4,247.7 619.9,246.3 624.5,245.2 627.8,242.2 630.9,239.5 631.5,235.8 634.6,233.1 635.3,230.5 633.7,228.5 632.7,225.8 630.4,223.4 632.7,221.2 636.4,218.8 633.3,218.1 630.0,218.8 628.2,216.6 627.4,215.7 630.0,214.8 633.7,212.4 634.6,215.7 636.0,215.0 639.7,213.9 641.0,214.8 641.9,217.5 643.7,219.3 643.4,223.9 645.6,223.7 648.8,222.5 649.2,220.3 647.9,217.5 645.6,214.2 647.9,212.2 651.2,209.6 653.8,208.0 656.7,207.3 659.6,207.1 661.9,205.3 663.8,203.2 666.3,200.7 669.0,198.3 669.1,195.5 669.7,192.8 671.0,191.0 669.9,189.1 666.4,188.5 662.9,188.2 660.2,187.1 662.1,185.4 664.2,184.0 666.8,182.7 669.3,181.3 672.0,179.7 674.8,178.5 677.6,178.2 680.3,178.2 683.1,178.5 686.7,178.6 690.4,179.1 693.1,178.8 695.9,178.1 694.9,175.4 698.6,173.6 701.8,174.0 705.0,174.5 707.7,173.5 710.5,172.7 708.3,174.6 705.9,176.3 703.8,178.7 701.4,180.9 697.7,182.7 698.0,186.4 698.6,190.1 699.0,193.7 702.3,190.4 705.0,187.3 708.7,184.2 711.0,181.4 709.6,180.0 712.3,177.6 716.0,176.7 719.7,176.8 723.3,177.2 727.0,175.4 729.9,174.2 733.0,173.4 736.1,172.7 739.8,173.0 740.5,170.5 741.6,168.1"/>
<polyline points="83.0,167.5 85.7,167.9 88.5,168.1 91.2,168.7 94.0,168.8 96.7,169.2 100.4,167.2 97.6,165.3 94.9,164.6 92.1,163.9 89.1,162.8 86.1,161.8 83.0,161.1"/>
<polyline points="741.6,161.1 737.9,160.0 735.2,159.5 732.5,159.5 729.7,159.0 727.0,159.1 723.3,158.7 720.2,158.9 717.2,159.3 714.2,159.7 710.5,159.6 706.8,159.7 703.2,157.5 699.5,157.3 695.9,157.1 692.8,156.5 689.7,156.8 686.7,156.2 683.7,155.6 680.6,155.6 677.6,154.9 674.5,154.9 671.5,154.6 668.4,154.3 665.4,154.8 662.3,155.7 659.3,156.2 656.2,156.5 653.2,156.6 650.1,157.1 647.7,155.6 644.6,152.5 641.6,152.6 638.6,153.3 635.5,153.4 631.9,152.7 628.2,152.5 625.1,152.6 622.1,152.1 619.0,152.1 617.1,149.7 615.4,147.0 612.7,146.4 609.9,146.1 606.3,145.2 602.6,144.8 599.4,145.5 596.4,146.5 593.4,147.6 589.8,147.6 586.1,147.9 583.4,148.5 580.6,148.2 577.9,148.8 575.1,148.9 571.5,151.6 568.4,152.1 565.4,153.1 562.3,153.4 559.6,155.3 555.0,154.7 552.2,154.9 549.5,154.3 546.8,153.9 544.0,153.8 540.4,153.4 537.6,157.1 535.4,158.6 533.0,159.8 530.3,160.1 527.5,160.2 524.8,161.1 522.1,161.1 519.0,161.7 515.9,161.5 512.9,162.0 509.3,161.1 506.3,162.0 503.1,162.1 500.1,163.1 496.5,162.3 492.8,162.0 491.9,165.3 487.3,165.7 485.5,169.0 482.6,169.7 480.0,170.8 476.3,169.2 475.4,166.2 470.8,164.4 473.9,164.7 477.0,164.9 480.0,165.7 482.4,164.9 484.8,163.9 487.3,163.5 485.5,162.6 482.5,161.6 479.5,160.8 476.3,160.4 473.3,160.2 470.3,159.5 467.2,159.3 464.1,158.7 461.1,157.7 458.0,157.1 454.9,157.4 451.9,158.2 448.9,158.9 446.1,159.7 443.4,160.8 440.7,161.9 437.9,162.6 435.2,166.2 432.7,167.9 430.6,169.9 426.0,171.7 421.4,173.6 421.4,177.2 422.4,179.6 425.1,180.9 427.3,180.5 431.5,178.1 432.8,180.0 434.3,181.8 435.7,184.6 438.3,185.7 441.6,184.2 442.5,181.8 445.2,178.5 444.3,175.8 443.9,173.0 446.5,171.8 448.9,170.3 452.5,167.0 455.6,167.4 458.6,167.7 456.4,169.3 454.0,170.4 451.6,171.7 451.6,175.4 453.5,177.2 458.0,176.7 460.8,176.4 463.5,176.3 467.2,177.2 464.4,178.0 461.7,178.1 459.0,178.5 456.2,178.5 455.3,180.3 456.8,182.2 453.8,182.6 450.7,182.7 450.7,184.6 451.1,185.8 448.0,187.5 446.1,186.9 441.6,187.7 437.9,188.4 434.3,187.9 432.2,188.2 431.5,186.4 435.2,185.1 431.5,181.8 427.9,182.7 427.3,185.5 428.2,188.2 426.9,189.0 425.1,189.3 421.4,189.7 420.5,191.5 418.7,193.0 416.9,193.5 415.2,194.1 415.0,195.2 412.3,196.3 409.9,196.1 408.8,197.9 406.8,197.7 403.7,198.5 404.4,199.6 407.7,200.5 410.1,202.9 410.1,205.4 409.4,207.6 406.8,207.6 404.1,207.7 401.3,207.3 397.7,207.1 395.5,208.2 396.0,210.2 396.2,212.9 394.9,216.2 396.2,217.7 395.8,219.3 398.6,219.0 400.8,219.7 402.1,221.2"/>
<polyline points="463.5,211.7 463.5,207.4 466.6,204.2 468.6,202.0 471.8,202.9 472.7,204.2 477.2,204.7 479.3,204.0 481.8,201.0 484.2,200.9 481.8,202.9 480.9,205.2 484.6,207.6 486.5,209.2 488.4,210.9 485.5,212.0 482.7,211.8 480.0,211.7 476.3,210.2 472.7,210.2 469.0,211.7 466.3,211.8 463.5,211.7"/>
<polyline points="498.3,205.6 499.2,203.8 501.9,202.0 506.5,201.0 509.3,201.4 509.3,204.2 506.2,205.6 504.7,206.0 506.9,207.4 508.7,209.3 509.3,212.0 511.1,212.9 510.7,215.7 511.1,218.4 510.2,219.5 505.6,219.9 502.9,218.4 501.9,216.6 502.9,213.3 501.0,210.6 499.2,208.4 498.3,205.6"/>
<polyline points="518.4,202.9 521.2,202.5 523.9,202.0 524.8,205.6 520.2,206.5 518.4,202.9"/>
<polyline points="401.9,195.5 404.4,195.1 406.8,194.4 409.5,193.9 412.3,194.1 414.9,193.2 415.4,190.6 412.8,189.3 411.9,188.0 410.1,187.1 409.2,185.3 408.3,183.6 409.0,181.8 406.8,179.8 403.2,179.8 401.7,181.8 402.1,184.0 403.2,185.3 403.5,186.8 406.3,186.6 406.4,188.0 406.8,189.3 404.1,189.5 404.4,191.5 402.8,192.4 405.0,192.8 406.8,193.0 404.1,193.5 401.9,195.5"/>
<polyline points="401.3,191.5 401.0,189.1 402.2,187.3 398.9,185.8 396.7,187.3 394.0,188.2 394.9,191.0 393.5,192.2 397.7,192.6 401.3,191.5"/>
<polyline points="371.1,169.9 368.4,167.2 372.1,165.5 375.7,165.6 379.4,165.9 382.1,166.0 384.9,165.7 387.6,167.7 385.8,169.2 383.4,170.1 380.9,170.6 378.5,171.0 374.8,170.3 371.1,169.9"/>
<polyline points="432.4,143.4 435.6,142.7 438.5,141.4 441.6,140.6 444.3,140.3 447.1,140.7 449.8,139.9 452.5,140.1 455.6,140.3 458.6,140.7 461.7,140.6 458.6,141.5 455.5,142.5 452.5,143.9 449.8,144.6 447.0,145.3 444.4,146.6 441.6,147.0 438.7,145.9 436.1,144.3 432.4,143.4"/>
<polyline points="507.4,156.2 510.2,154.8 512.9,153.4 514.9,151.8 516.6,149.8 519.3,148.6 522.1,147.4 525.0,147.0 527.9,146.9 530.9,146.9 533.8,146.1 536.7,146.1 534.3,147.1 531.9,148.2 529.4,148.9 526.5,149.7 524.0,151.3 521.2,152.3 518.4,153.4 516.8,155.5 514.7,157.1 511.1,156.6 507.4,156.2"/>
<polyline points="582.4,142.4 585.5,141.2 588.6,140.2 591.6,138.8 594.4,139.5 597.0,140.8 599.8,141.5 602.6,142.4 600.1,143.1 597.6,143.4 595.2,144.3 592.2,143.8 589.1,143.2 586.1,142.4 582.4,142.4"/>
<polyline points="664.8,149.8 667.8,149.2 670.9,149.4 673.9,148.9 676.5,149.2 679.0,149.2 681.6,148.8 684.2,149.1 686.7,149.2 683.0,149.8 679.4,150.7 676.6,150.8 673.9,150.9 671.2,151.7 668.4,151.6 664.8,149.8"/>
<polyline points="494.6,139.7 497.6,139.1 500.8,139.4 503.8,138.8 506.4,138.9 509.0,138.6 511.6,139.1 514.2,138.7 516.8,138.7 519.5,138.7 522.1,138.8 519.1,139.7 516.0,140.2 512.9,140.6 510.3,140.3 507.7,140.1 505.1,140.0 502.5,139.8 499.9,139.9 497.2,139.9 494.6,139.7"/>
<polyline points="83.0,156.2 85.7,156.7 88.5,156.7 85.7,157.0 83.0,157.3"/>
<polyline points="741.6,157.1 737.9,156.5 741.6,156.2"/>
<polyline points="651.8,224.8 654.7,222.3 659.3,221.7 661.1,221.2 662.9,219.3 666.6,217.5 668.2,213.9 668.4,211.5 671.2,211.5 671.9,214.8 670.3,217.0 670.1,219.5 669.5,222.1 667.9,223.0 666.0,223.7 662.9,223.7 662.6,224.5 659.6,225.8 659.8,223.7 655.6,224.3 652.0,225.0 651.8,224.8"/>
<polyline points="650.1,225.8 652.9,225.6 653.2,228.5 652.0,230.3 650.5,229.8 649.8,227.0 650.1,225.8"/>
<polyline points="654.7,225.2 657.4,224.3 658.7,225.2 655.6,227.0 654.7,225.2"/>
<polyline points="668.4,211.1 669.3,207.8 671.5,204.0 674.8,206.0 678.5,207.8 674.8,209.3 671.2,209.3 668.4,211.1"/>
<polyline points="672.1,202.9 673.9,202.0 674.8,197.4 676.1,196.8 673.9,192.8 674.5,190.1 673.0,187.7 672.2,190.2 672.1,192.8 671.8,195.5 672.1,198.3 672.1,202.9"/>
<polyline points="632.2,245.7 633.1,247.0 634.6,245.0 635.3,241.3 633.7,241.3 632.2,244.1 632.2,245.7"/>
<polyline points="611.0,251.9 613.5,250.3 615.4,251.2 613.5,253.6 611.2,253.2 611.0,251.9"/>
<polyline points="632.9,253.2 635.9,253.2 635.5,256.9 634.8,258.2 636.4,261.5 639.2,263.3 638.2,262.0 635.1,261.8 632.9,260.7 631.8,257.8 632.9,253.2"/>
<polyline points="635.5,274.3 639.2,272.5 641.9,269.2 642.9,271.7 643.7,274.3 641.9,276.5 639.2,275.2 635.5,274.3"/>
<polyline points="636.4,267.9 638.2,266.0 639.2,268.8"/>
<polyline points="640.1,267.0 641.9,264.2 641.0,267.9"/>
<polyline points="634.6,264.2 633.7,262.7"/>
<polyline points="626.7,271.9 628.5,268.9 630.9,266.2"/>
<polyline points="611.7,284.4 612.8,283.3 615.4,283.4 619.0,281.2 621.8,278.9 624.5,276.1 627.6,275.2 630.0,277.6 628.2,278.9 627.9,281.6 627.8,284.4 630.0,286.2 627.7,288.0 625.4,289.8 625.4,293.5 621.8,293.9 619.0,293.4 616.3,292.6 613.5,290.8 612.3,287.1 611.7,284.4"/>
<polyline points="586.6,276.8 590.7,277.6 593.2,279.8 595.2,282.5 597.4,284.7 599.7,286.8 601.8,288.9 603.5,291.7 606.2,293.1 605.9,297.7 603.5,297.5 601.3,296.2 599.5,294.4 597.8,292.1 596.2,289.8 594.6,286.9 593.0,284.0 589.8,280.3 586.6,276.8"/>
<polyline points="604.8,299.6 607.1,298.1 610.8,299.0 615.4,299.0 618.5,299.9 621.8,301.2 621.6,303.0 618.5,302.5 615.4,302.1 612.6,301.7 609.9,301.4 606.2,300.7 604.8,299.6"/>
<polyline points="622.7,302.3 625.4,303.2"/>
<polyline points="626.3,302.7 630.0,303.0"/>
<polyline points="631.5,302.7 634.4,302.7 637.3,302.3"/>
<polyline points="639.2,305.0 641.8,303.4 644.6,302.3"/>
<polyline points="639.7,305.8 641.0,304.5"/>
<polyline points="630.7,297.2 630.6,292.6 629.6,292.2 630.3,289.0 631.5,285.8 632.4,285.6 634.6,284.9 637.3,284.6 640.1,284.4 641.0,284.2 637.3,286.2 633.7,286.4 632.2,288.6 635.1,288.9 637.9,288.7 636.4,290.4 634.2,290.4 635.5,292.6 636.8,295.3 634.8,295.9 633.3,292.6 632.6,297.4 630.7,297.2"/>
<polyline points="645.6,284.4 646.5,283.1 647.7,285.3"/>
<polyline points="646.5,293.1 651.0,293.5"/>
<polyline points="642.8,293.0 644.6,294.1"/>
<polyline points="652.0,289.5 654.7,287.8 657.4,288.7 659.3,293.1 661.7,291.7 663.8,289.8 667.1,290.7 670.3,291.9 673.0,293.0 675.7,294.1 679.0,297.2 682.1,298.5 683.1,301.7 685.1,303.6 686.7,306.0 683.1,305.4 681.3,303.5 679.4,301.7 675.7,301.0 674.8,303.6 670.3,303.6 666.6,301.9 664.8,302.5 664.0,299.0 661.1,295.3 658.4,294.2 655.6,294.4 653.8,292.2 652.0,289.5"/>
<polyline points="684.0,297.2 687.6,297.2 690.4,295.3 688.5,298.1 684.9,298.5"/>
<polyline points="690.4,292.6 692.2,295.3"/>
<polyline points="695.9,298.1 699.5,300.8"/>
<polyline points="701.4,301.7 704.1,303.6 706.8,305.4"/>
<polyline points="704.1,303.6 705.9,305.0"/>
<polyline points="716.9,314.6 718.7,317.3"/>
<polyline points="712.3,324.3 715.0,326.3 717.8,327.9"/>
<polyline points="737.0,319.1 738.9,320.1"/>
<polyline points="558.5,276.1 558.6,272.7 558.7,269.3 560.9,271.5 561.9,274.3 560.5,276.1 558.5,276.1"/>
<polyline points="502.5,309.1 503.3,312.3 504.3,315.5 503.4,318.2 501.9,321.3 501.0,324.6 500.5,327.4 499.5,330.0 498.6,332.7 495.0,333.8 492.4,330.1 491.5,326.5 493.5,322.8 492.8,318.2 495.1,317.1 497.4,315.8 500.1,311.8 502.5,309.1"/>
<polyline points="470.8,288.9 474.5,287.6 474.5,291.7 472.7,291.9 470.3,290.8 470.8,288.9"/>
<polyline points="466.3,293.5 466.9,296.5 467.8,299.5 468.1,302.7"/>
<polyline points="475.4,304.5 475.6,307.3 475.9,310.0 476.3,312.7"/>
<polyline points="602.6,192.8 606.2,191.0 608.3,189.4 609.7,187.1 611.7,185.5"/>
<polyline points="621.0,327.4 619.9,332.0 621.2,335.6 622.1,338.8 622.7,342.0 624.0,345.7 622.7,349.9 625.4,350.5 628.0,351.4 631.8,349.4 635.0,349.5 638.2,349.2 640.5,347.7 642.8,346.2 645.6,345.7 648.3,345.1 652.3,344.8 654.9,345.6 657.4,346.6 658.7,348.8 660.2,350.8 663.8,347.5 664.4,352.3 667.7,352.8 669.3,356.7 672.1,357.3 674.8,358.1 677.4,358.6 679.9,358.7 682.9,356.5 686.7,355.8 687.7,352.6 688.5,349.4 691.3,345.7 692.0,342.4 693.1,339.3 692.6,336.5 692.2,333.8 690.5,331.8 688.5,330.1 686.8,327.8 684.9,325.6 682.1,324.0 679.8,321.9 679.4,319.4 678.4,317.1 678.1,314.6 674.8,312.7 674.1,309.7 673.0,306.7 671.3,310.9 671.0,314.1 671.2,317.3 668.4,319.5 666.3,317.7 663.8,316.4 660.2,314.2 661.2,311.7 662.6,309.4 659.1,308.7 655.6,308.2 651.0,309.6 649.2,314.2 644.6,312.4 641.9,313.7 639.0,315.7 636.4,318.2 634.9,320.3 633.7,322.4 629.1,324.3 625.4,325.0 621.0,327.4"/>
<polyline points="676.8,361.6 680.2,361.7 683.6,362.0 683.1,366.2 680.9,366.9 678.1,364.4 676.8,361.6"/>
<polyline points="728.1,350.1 731.5,353.0 733.9,354.9 736.4,355.3 738.9,356.1 737.8,358.9 735.7,359.6 733.0,363.3 731.7,362.7 732.1,360.2 730.3,358.9 731.7,355.4 730.2,352.6 728.1,350.1"/>
<polyline points="728.2,361.3 731.0,362.7 730.3,364.9 728.2,367.3 725.7,368.4 724.8,371.0 721.5,372.4 716.9,371.3 717.8,369.5 720.6,367.7 724.2,365.8 726.0,363.6 728.2,361.3"/>
<polyline points="83.0,430.5 85.6,430.9 88.2,430.9 90.8,430.3 93.4,430.9 96.1,430.5 98.7,431.1 101.3,430.8 103.9,430.5 106.5,430.6 109.1,430.6 111.8,430.5 114.4,430.1 117.0,430.1 119.6,429.9 122.7,429.6 125.7,429.0 128.7,428.1 131.8,427.9 134.8,427.1 137.9,427.2 141.0,426.7 143.9,425.8 147.0,425.3 150.1,425.2 153.1,424.4 156.2,424.4 158.8,424.5 161.4,424.1 164.0,423.9 166.6,423.9 169.3,424.1 171.9,423.7 174.5,423.5 177.1,423.6 179.7,423.3 182.3,423.1 184.9,422.9 187.5,422.8 190.2,422.9 192.8,422.6 195.4,422.4 198.0,423.0 200.6,423.0 203.2,422.8 205.8,423.6 208.4,423.5 211.1,423.5 213.7,423.3 216.3,422.8 218.9,422.5 221.5,422.5 224.1,422.2 226.7,422.0 229.4,421.7 232.0,421.4 234.6,421.3 237.2,421.5 239.8,421.2 242.4,421.2 245.0,420.7 247.7,420.8 250.3,420.7 252.9,420.8 255.5,420.8 258.1,420.5 260.7,420.7 263.3,420.4 265.9,420.8 269.0,419.6 272.1,418.6 275.1,417.1 278.1,415.7 281.1,414.5 284.2,413.4 286.1,411.7 287.9,409.8 290.5,407.8 293.4,406.1 296.5,405.3 299.5,403.9 302.5,403.0 305.3,403.2 308.0,403.2 306.2,406.1 303.5,408.0 300.7,409.8 300.0,412.6 298.9,415.3 299.4,417.8 299.9,420.2 300.7,422.6 302.5,424.4 302.5,428.1 305.1,428.4 307.8,428.4 310.4,428.8 313.0,429.2 315.6,429.6 318.2,429.3 320.8,429.9 323.4,429.5 326.1,429.8 328.7,429.3 331.3,429.3 333.9,429.3 336.5,429.4 339.1,429.0 342.2,428.2 345.1,426.9 348.3,426.3 351.3,425.6 354.4,425.1 357.4,424.4 360.4,423.5 363.4,422.4 366.6,421.7 369.6,421.2 372.6,420.7 375.7,420.8 378.8,420.3 381.8,419.4 384.9,418.9 387.9,418.5 391.0,418.0 394.0,417.1 396.6,417.0 399.2,416.7 401.8,416.3 404.5,416.4 407.1,415.8 409.7,415.6 412.3,415.3 414.9,415.0 417.5,415.3 420.1,415.3 422.8,415.2 425.4,415.5 428.0,415.2 430.6,415.3 433.2,415.6 435.8,415.0 438.4,415.5 441.0,415.5 443.7,415.5 446.3,415.2 448.9,415.3 451.5,414.9 454.1,415.1 456.7,414.6 459.3,414.6 462.0,414.6 464.6,414.3 467.2,414.4 469.8,414.1 472.4,413.8 475.0,414.1 477.6,414.0 480.2,413.7 482.9,413.5 485.5,413.4 488.1,413.1 490.7,412.3 493.3,412.0 496.0,411.5 498.5,410.6 501.2,410.6 503.8,409.8 506.4,410.0 509.0,409.7 511.6,410.3 514.2,410.2 516.8,410.8 519.4,410.7 522.1,410.7 524.7,410.9 527.3,410.9 529.9,411.4 532.5,411.1 535.1,411.5 537.8,411.4 540.4,411.6 542.3,413.4 544.0,415.3 546.8,414.4 549.5,413.4 552.6,412.5 555.7,411.8 558.7,410.7 561.3,410.3 563.9,410.0 566.5,410.2 569.1,410.0 571.8,409.7 574.3,408.9 577.0,408.9 579.5,408.4 582.2,408.5 584.8,408.2 587.4,408.0 590.0,407.5 592.6,407.2 595.2,407.0 597.9,407.2 600.5,407.2 603.1,407.4 605.7,407.4 608.3,407.9 610.9,407.7 613.5,408.0 616.2,407.9 618.8,408.3 621.4,408.4 624.0,408.6 626.6,408.3 629.2,408.7 631.8,408.9 634.4,408.5 637.1,408.8 639.7,408.8 642.3,408.0 644.9,407.9 647.5,408.4 650.1,408.0 652.7,408.0 655.3,408.4 658.0,408.6 660.6,408.6 663.2,408.3 665.8,409.0 668.4,408.9 671.1,409.2 673.7,409.9 676.2,410.7 678.9,410.7 681.5,411.4 684.0,412.3 686.7,412.5 689.3,413.2 691.9,413.4 694.6,413.4 697.2,414.1 699.7,414.7 702.4,415.1 705.0,415.3 708.0,416.0 711.1,416.7 714.2,417.1 717.2,417.9 720.3,418.1 723.3,418.9 723.3,422.6 720.2,423.7 717.2,425.1 714.2,426.3 712.3,429.0 715.1,429.1 717.8,429.2 720.6,429.7 723.3,429.9 725.9,429.9 728.5,430.4 731.2,429.9 733.7,430.6 736.4,430.2 739.0,430.2 741.6,430.5"/>
<polyline points="260.5,173.2 264.1,172.5 260.5,171.7"/>
<polyline points="165.3,160.2 169.0,159.3"/>
<polyline points="137.9,158.0 140.6,158.5 143.4,158.4"/>
<polyline points="271.4,176.7 269.6,173.6"/>
<polyline points="267.8,183.6 266.9,181.8"/>
<polyline points="265.0,177.6 265.9,176.3"/>
<polyline points="302.5,136.0 305.6,135.7 308.6,135.6 311.7,135.7"/>
<polyline points="366.6,146.1 369.6,147.0 372.7,147.3 375.7,147.9"/>
<polyline points="375.7,137.9 378.8,137.5 381.8,137.6 384.9,137.3"/>
<polyline points="108.6,166.6 105.0,166.2"/>
<polyline points="106.8,176.9 110.4,176.5"/>
<polyline points="99.5,170.8 102.2,171.4 105.0,171.4"/>
<polyline points="132.4,181.8 134.2,180.5"/>
<g stroke-width="2.1"><polyline points="265.9,152.5 268.5,152.6 270.9,153.5 273.2,154.5 275.7,155.1 278.3,155.1 280.6,156.2 283.6,157.5 286.6,158.7 289.7,159.8 291.9,161.4 294.1,163.0 296.4,164.3 298.9,165.3 296.3,167.8 293.4,169.9 291.6,173.6 288.4,173.6 285.5,172.3 282.4,172.1 280.0,171.0 277.3,170.8 274.8,169.8 272.0,170.2 269.6,169.0 272.2,167.4 274.6,165.5 276.9,163.5 274.5,162.2 271.7,161.9 269.4,160.4 266.6,160.1 264.1,158.9 261.1,158.9 258.3,157.4 255.4,157.1 252.5,156.4 249.5,156.2 247.7,154.3 249.9,153.1 252.4,152.3 255.0,152.0 257.7,151.5 260.5,152.0 263.2,152.5 265.9,152.5"/>
<polyline points="265.9,147.0 268.2,145.6 270.8,145.1 273.3,144.3 276.2,143.8 278.8,142.4 281.1,141.5 283.5,140.7 286.0,140.2 288.6,140.3 291.1,139.9 293.4,138.8 296.3,137.9 298.9,136.4 295.9,136.2 293.0,136.1 290.1,135.3 287.1,135.8 284.2,135.1 281.6,134.7 279.0,134.6 276.4,135.3 273.8,134.8 271.2,135.2 268.6,134.8 265.9,135.1 263.3,135.2 260.7,135.8 258.2,136.5 255.4,135.9 252.8,136.3 250.3,137.3 247.7,137.3 244.0,140.6 246.1,142.7 247.7,145.2 250.6,146.1 253.8,146.3 256.8,147.0 259.8,147.2 262.9,146.6 265.9,147.0"/>
<polyline points="265.9,150.7 263.0,150.2 260.1,151.1 257.2,151.2 254.2,150.4 251.3,150.7 248.8,150.3 246.5,149.0 244.0,148.9 246.4,147.9 248.8,146.8 251.3,146.1 254.3,145.9 257.1,146.9 260.1,146.7 263.0,146.9 265.9,147.4 265.9,150.7"/>
<polyline points="227.5,158.9 224.4,159.3 221.5,160.7 218.4,160.8 215.5,160.3 212.5,160.3 209.6,160.6 206.7,161.2 203.7,160.8 201.4,159.8 198.8,159.9 196.4,158.9 196.4,156.2 198.8,154.8 201.5,154.4 203.7,152.9 206.3,153.3 208.9,153.0 211.4,152.8 214.0,152.5 216.5,152.5 219.2,154.9 222.0,157.1 224.6,158.5 227.5,158.9"/>
<polyline points="192.8,156.2 189.7,156.2 186.7,155.7 183.6,155.6 184.9,153.3 185.4,150.7 188.2,151.0 190.9,150.7 193.7,150.3 196.4,150.7 200.1,153.4 197.5,154.1 195.2,155.2 192.8,156.2"/>
<polyline points="220.2,148.9 217.4,148.4 214.7,149.2 212.0,148.6 209.2,149.2 206.5,149.3 203.8,148.4 201.0,149.2 198.3,148.5 201.9,147.0 204.5,147.5 207.0,146.7 209.6,146.2 212.2,146.5 214.7,146.5 217.7,147.2 220.2,148.9"/>
<polyline points="234.8,156.2 231.7,155.8 228.6,155.4 225.7,154.3 227.5,151.6 230.6,151.4 233.7,151.8 236.7,152.5 234.8,156.2"/>
<polyline points="242.2,147.9 238.5,147.6 234.8,147.0 234.8,144.3 238.5,145.1 242.2,145.2 242.2,147.9"/>
<polyline points="238.5,143.4 235.9,143.3 233.6,142.3 231.2,141.5 233.8,140.0 236.7,138.8 239.2,139.1 241.8,138.8 244.3,139.6 246.9,139.6 249.5,139.7 246.7,141.0 244.0,142.4 241.2,142.8 238.5,143.4"/>
<polyline points="211.1,144.6 208.0,144.9 204.9,144.3 201.9,143.7 204.7,143.3 207.4,142.8 211.1,144.6"/>
<polyline points="194.6,147.6 191.8,147.7 189.1,147.0 187.3,145.7 190.3,145.3 193.4,145.0 196.4,144.6 200.1,146.1 197.4,147.1 194.6,147.6"/>
<polyline points="234.8,148.9 232.1,148.1 229.4,148.3 227.5,147.0 230.3,146.6 233.0,146.5 234.8,148.9"/>
<polyline points="242.2,150.1 239.5,149.5 236.7,149.8 238.5,148.7 242.2,149.2 242.2,150.1"/>
<polyline points="247.7,154.3 244.6,154.8 241.6,154.4 238.5,154.3 238.5,152.0 242.2,151.6 245.8,151.6 247.7,154.3"/>
<polyline points="236.7,161.7 232.1,160.8 231.2,159.3 234.8,158.9 238.5,159.8 236.7,161.7"/>
<polyline points="253.1,142.4 250.1,142.3 247.0,142.2 244.0,142.4 241.1,141.6 238.5,140.1 242.2,138.2 245.8,139.2 249.5,139.1 253.1,142.4"/>
<polyline points="234.8,144.6 232.1,144.1 229.4,144.3 229.4,142.8 232.1,143.4 234.8,143.2 234.8,144.6"/>
<polyline points="227.5,143.9 224.7,144.3 222.0,143.5 225.7,142.4 227.5,143.9"/>
<polyline points="220.2,145.7 217.1,145.9 214.1,145.4 211.1,145.4 209.2,144.3 212.3,144.0 215.3,143.7 218.4,143.9 220.2,145.7"/>
<polyline points="264.1,153.8 267.8,153.3 271.4,153.8 273.3,152.3 269.6,152.2 265.9,152.0 264.1,153.8"/>
<polyline points="240.3,160.4 236.7,158.0 238.5,155.3 242.2,156.2 244.0,158.9 240.3,160.4"/>
<polyline points="267.8,162.0 265.9,159.7 268.7,159.4 271.4,159.3 273.3,161.1 270.6,162.2 267.8,162.0"/>
<polyline points="203.7,163.0 206.4,162.1 209.2,162.2 212.0,162.9 214.7,163.3"/>
<polyline points="225.7,163.0 228.5,162.8 231.2,163.5 234.8,161.7"/>
<polyline points="295.2,145.6 292.5,145.2 289.7,144.6"/>
<polyline points="207.4,151.0 211.0,150.4 214.7,150.5 218.4,150.8 222.0,150.9 225.7,150.3 229.4,150.3"/>
<polyline points="189.1,150.1 192.8,149.9 196.4,149.2 200.1,149.5 203.7,149.6"/>
<polyline points="222.0,147.6 225.7,147.2 229.4,147.2 231.2,145.7 227.5,145.4 223.9,145.6 222.0,147.6"/>
<polyline points="247.7,147.0 250.1,146.4 252.6,146.0 255.0,145.2 258.6,145.5 262.3,145.7"/>
<polyline points="207.4,158.0 211.1,157.7 214.7,157.5 218.4,157.7 222.0,158.2"/>
<polyline points="201.9,154.9 205.0,154.5 208.0,154.1 211.1,154.3 214.7,154.6 218.4,155.1"/>
<polyline points="255.0,158.4 258.6,157.4 262.3,157.5 265.9,158.3 269.6,158.4"/>
<polyline points="275.1,160.8 278.7,159.8 282.4,159.8"/>
<polyline points="256.8,154.3 259.5,155.3 262.3,155.3 265.1,155.1 267.8,155.6"/>
<polyline points="251.3,159.8 255.0,158.0"/>
<polyline points="284.2,141.5 287.8,140.2 291.6,140.1"/>
<polyline points="258.6,139.7 261.3,138.9 264.1,138.9 266.9,138.3 269.6,137.9"/>
<polyline points="256.8,143.4 259.9,143.4 262.9,142.5 265.9,142.1"/></g>
</g>
<g stroke="#000" stroke-width="1.3">
<line x1="83.0" y1="451.9" x2="83.0" y2="444.9"/>
<line x1="83.0" y1="122.3" x2="83.0" y2="129.3"/>
<line x1="101.3" y1="451.9" x2="101.3" y2="448.4"/>
<line x1="101.3" y1="122.3" x2="101.3" y2="125.8"/>
<line x1="119.6" y1="451.9" x2="119.6" y2="448.4"/>
<line x1="119.6" y1="122.3" x2="119.6" y2="125.8"/>
<line x1="137.9" y1="451.9" x2="137.9" y2="448.4"/>
<line x1="137.9" y1="122.3" x2="137.9" y2="125.8"/>
<line x1="156.2" y1="451.9" x2="156.2" y2="448.4"/>
<line x1="156.2" y1="122.3" x2="156.2" y2="125.8"/>
<line x1="174.5" y1="451.9" x2="174.5" y2="448.4"/>
<line x1="174.5" y1="122.3" x2="174.5" y2="125.8"/>
<line x1="192.8" y1="451.9" x2="192.8" y2="444.9"/>
<line x1="192.8" y1="122.3" x2="192.8" y2="129.3"/>
<line x1="211.1" y1="451.9" x2="211.1" y2="448.4"/>
<line x1="211.1" y1="122.3" x2="211.1" y2="125.8"/>
<line x1="229.4" y1="451.9" x2="229.4" y2="448.4"/>
<line x1="229.4" y1="122.3" x2="229.4" y2="125.8"/>
<line x1="247.7" y1="451.9" x2="247.7" y2="448.4"/>
<line x1="247.7" y1="122.3" x2="247.7" y2="125.8"/>
<line x1="265.9" y1="451.9" x2="265.9" y2="448.4"/>
<line x1="265.9" y1="122.3" x2="265.9" y2="125.8"/>
<line x1="284.2" y1="451.9" x2="284.2" y2="448.4"/>
<line x1="284.2" y1="122.3" x2="284.2" y2="125.8"/>
<line x1="302.5" y1="451.9" x2="302.5" y2="444.9"/>
<line x1="302.5" y1="122.3" x2="302.5" y2="129.3"/>
<line x1="320.8" y1="451.9" x2="320.8" y2="448.4"/>
<line x1="320.8" y1="122.3" x2="320.8" y2="125.8"/>
<line x1="339.1" y1="451.9" x2="339.1" y2="448.4"/>
<line x1="339.1" y1="122.3" x2="339.1" y2="125.8"/>
<line x1="357.4" y1="451.9" x2="357.4" y2="448.4"/>
<line x1="357.4" y1="122.3" x2="357.4" y2="125.8"/>
<line x1="375.7" y1="451.9" x2="375.7" y2="448.4"/>
<line x1="375.7" y1="122.3" x2="375.7" y2="125.8"/>
<line x1="394.0" y1="451.9" x2="394.0" y2="448.4"/>
<line x1="394.0" y1="122.3" x2="394.0" y2="125.8"/>
<line x1="412.3" y1="451.9" x2="412.3" y2="444.9"/>
<line x1="412.3" y1="122.3" x2="412.3" y2="129.3"/>
<line x1="430.6" y1="451.9" x2="430.6" y2="448.4"/>
<line x1="430.6" y1="122.3" x2="430.6" y2="125.8"/>
<line x1="448.9" y1="451.9" x2="448.9" y2="448.4"/>
<line x1="448.9" y1="122.3" x2="448.9" y2="125.8"/>
<line x1="467.2" y1="451.9" x2="467.2" y2="448.4"/>
<line x1="467.2" y1="122.3" x2="467.2" y2="125.8"/>
<line x1="485.5" y1="451.9" x2="485.5" y2="448.4"/>
<line x1="485.5" y1="122.3" x2="485.5" y2="125.8"/>
<line x1="503.8" y1="451.9" x2="503.8" y2="448.4"/>
<line x1="503.8" y1="122.3" x2="503.8" y2="125.8"/>
<line x1="522.1" y1="451.9" x2="522.1" y2="444.9"/>
<line x1="522.1" y1="122.3" x2="522.1" y2="129.3"/>
<line x1="540.4" y1="451.9" x2="540.4" y2="448.4"/>
<line x1="540.4" y1="122.3" x2="540.4" y2="125.8"/>
<line x1="558.7" y1="451.9" x2="558.7" y2="448.4"/>
<line x1="558.7" y1="122.3" x2="558.7" y2="125.8"/>
<line x1="577.0" y1="451.9" x2="577.0" y2="448.4"/>
<line x1="577.0" y1="122.3" x2="577.0" y2="125.8"/>
<line x1="595.2" y1="451.9" x2="595.2" y2="448.4"/>
<line x1="595.2" y1="122.3" x2="595.2" y2="125.8"/>
<line x1="613.5" y1="451.9" x2="613.5" y2="448.4"/>
<line x1="613.5" y1="122.3" x2="613.5" y2="125.8"/>
<line x1="631.8" y1="451.9" x2="631.8" y2="444.9"/>
<line x1="631.8" y1="122.3" x2="631.8" y2="129.3"/>
<line x1="650.1" y1="451.9" x2="650.1" y2="448.4"/>
<line x1="650.1" y1="122.3" x2="650.1" y2="125.8"/>
<line x1="668.4" y1="451.9" x2="668.4" y2="448.4"/>
<line x1="668.4" y1="122.3" x2="668.4" y2="125.8"/>
<line x1="686.7" y1="451.9" x2="686.7" y2="448.4"/>
<line x1="686.7" y1="122.3" x2="686.7" y2="125.8"/>
<line x1="705.0" y1="451.9" x2="705.0" y2="448.4"/>
<line x1="705.0" y1="122.3" x2="705.0" y2="125.8"/>
<line x1="723.3" y1="451.9" x2="723.3" y2="448.4"/>
<line x1="723.3" y1="122.3" x2="723.3" y2="125.8"/>
<line x1="741.6" y1="451.9" x2="741.6" y2="444.9"/>
<line x1="741.6" y1="122.3" x2="741.6" y2="129.3"/>
<line x1="83.0" y1="451.9" x2="86.5" y2="451.9"/>
<line x1="741.6" y1="451.9" x2="738.1" y2="451.9"/>
<line x1="83.0" y1="433.6" x2="90.0" y2="433.6"/>
<line x1="741.6" y1="433.6" x2="734.6" y2="433.6"/>
<line x1="83.0" y1="415.3" x2="86.5" y2="415.3"/>
<line x1="741.6" y1="415.3" x2="738.1" y2="415.3"/>
<line x1="83.0" y1="397.0" x2="86.5" y2="397.0"/>
<line x1="741.6" y1="397.0" x2="738.1" y2="397.0"/>
<line x1="83.0" y1="378.7" x2="86.5" y2="378.7"/>
<line x1="741.6" y1="378.7" x2="738.1" y2="378.7"/>
<line x1="83.0" y1="360.3" x2="90.0" y2="360.3"/>
<line x1="741.6" y1="360.3" x2="734.6" y2="360.3"/>
<line x1="83.0" y1="342.0" x2="86.5" y2="342.0"/>
<line x1="741.6" y1="342.0" x2="738.1" y2="342.0"/>
<line x1="83.0" y1="323.7" x2="86.5" y2="323.7"/>
<line x1="741.6" y1="323.7" x2="738.1" y2="323.7"/>
<line x1="83.0" y1="305.4" x2="86.5" y2="305.4"/>
<line x1="741.6" y1="305.4" x2="738.1" y2="305.4"/>
<line x1="83.0" y1="287.1" x2="90.0" y2="287.1"/>
<line x1="741.6" y1="287.1" x2="734.6" y2="287.1"/>
<line x1="83.0" y1="268.8" x2="86.5" y2="268.8"/>
<line x1="741.6" y1="268.8" x2="738.1" y2="268.8"/>
<line x1="83.0" y1="250.5" x2="86.5" y2="250.5"/>
<line x1="741.6" y1="250.5" x2="738.1" y2="250.5"/>
<line x1="83.0" y1="232.2" x2="86.5" y2="232.2"/>
<line x1="741.6" y1="232.2" x2="738.1" y2="232.2"/>
<line x1="83.0" y1="213.9" x2="90.0" y2="213.9"/>
<line x1="741.6" y1="213.9" x2="734.6" y2="213.9"/>
<line x1="83.0" y1="195.5" x2="86.5" y2="195.5"/>
<line x1="741.6" y1="195.5" x2="738.1" y2="195.5"/>
<line x1="83.0" y1="177.2" x2="86.5" y2="177.2"/>
<line x1="741.6" y1="177.2" x2="738.1" y2="177.2"/>
<line x1="83.0" y1="158.9" x2="86.5" y2="158.9"/>
<line x1="741.6" y1="158.9" x2="738.1" y2="158.9"/>
<line x1="83.0" y1="140.6" x2="90.0" y2="140.6"/>
<line x1="741.6" y1="140.6" x2="734.6" y2="140.6"/>
<line x1="83.0" y1="122.3" x2="86.5" y2="122.3"/>
<line x1="741.6" y1="122.3" x2="738.1" y2="122.3"/>
</g>
<rect x="83.0" y="122.3" width="658.6" height="329.59999999999997" fill="none" stroke="#3a3a3a" stroke-width="1.3"/>
<g font-size="15.5"><text x="83.0" y="472.2" text-anchor="middle">180</text><text x="192.8" y="472.2" text-anchor="middle">120W</text><text x="302.5" y="472.2" text-anchor="middle">60W</text><text x="412.3" y="472.2" text-anchor="middle">0</text><text x="522.1" y="472.2" text-anchor="middle">60E</text><text x="631.8" y="472.2" text-anchor="middle">120E</text><text x="741.6" y="472.2" text-anchor="middle">180</text><text x="73" y="145.8" text-anchor="end">80N</text><text x="73" y="219.1" text-anchor="end">40N</text><text x="73" y="292.3" text-anchor="end">0</text><text x="73" y="365.5" text-anchor="end">40S</text><text x="73" y="438.8" text-anchor="end">80S</text></g>
<rect x="84.80" y="494.3" width="59.55" height="12.699999999999989" fill="#fa0000"/><rect x="144.35" y="494.3" width="59.55" height="12.699999999999989" fill="#ff8200"/><rect x="203.89" y="494.3" width="59.55" height="12.699999999999989" fill="#e8e800"/><rect x="263.44" y="494.3" width="59.55" height="12.699999999999989" fill="#8cf500"/><rect x="322.98" y="494.3" width="59.55" height="12.699999999999989" fill="#1ef51e"/><rect x="382.53" y="494.3" width="59.55" height="12.699999999999989" fill="#e6e6e6"/><rect x="442.07" y="494.3" width="59.55" height="12.699999999999989" fill="#00fadc"/><rect x="501.62" y="494.3" width="59.55" height="12.699999999999989" fill="#00aaff"/><rect x="561.16" y="494.3" width="59.55" height="12.699999999999989" fill="#003cff"/><rect x="620.71" y="494.3" width="59.55" height="12.699999999999989" fill="#2800fa"/><rect x="680.25" y="494.3" width="59.55" height="12.699999999999989" fill="#8200fa"/>
<g stroke="#222" stroke-width="1"><line x1="144.35" y1="494.3" x2="144.35" y2="507.0"/><line x1="203.89" y1="494.3" x2="203.89" y2="507.0"/><line x1="263.44" y1="494.3" x2="263.44" y2="507.0"/><line x1="322.98" y1="494.3" x2="322.98" y2="507.0"/><line x1="382.53" y1="494.3" x2="382.53" y2="507.0"/><line x1="442.07" y1="494.3" x2="442.07" y2="507.0"/><line x1="501.62" y1="494.3" x2="501.62" y2="507.0"/><line x1="561.16" y1="494.3" x2="561.16" y2="507.0"/><line x1="620.71" y1="494.3" x2="620.71" y2="507.0"/><line x1="680.25" y1="494.3" x2="680.25" y2="507.0"/></g>
<rect x="84.8" y="494.3" width="655.0" height="12.699999999999989" fill="none" stroke="#222" stroke-width="1"/>
<g font-size="18.5"><text x="144.3" y="523.5" text-anchor="middle">-8</text><text x="203.9" y="523.5" text-anchor="middle">-4</text><text x="263.4" y="523.5" text-anchor="middle">-2</text><text x="323.0" y="523.5" text-anchor="middle">-1</text><text x="382.5" y="523.5" text-anchor="middle">-0.5</text><text x="442.1" y="523.5" text-anchor="middle">0.5</text><text x="501.6" y="523.5" text-anchor="middle">1</text><text x="561.2" y="523.5" text-anchor="middle">2</text><text x="620.7" y="523.5" text-anchor="middle">4</text><text x="680.3" y="523.5" text-anchor="middle">8</text></g>
</svg>
</body></html>
